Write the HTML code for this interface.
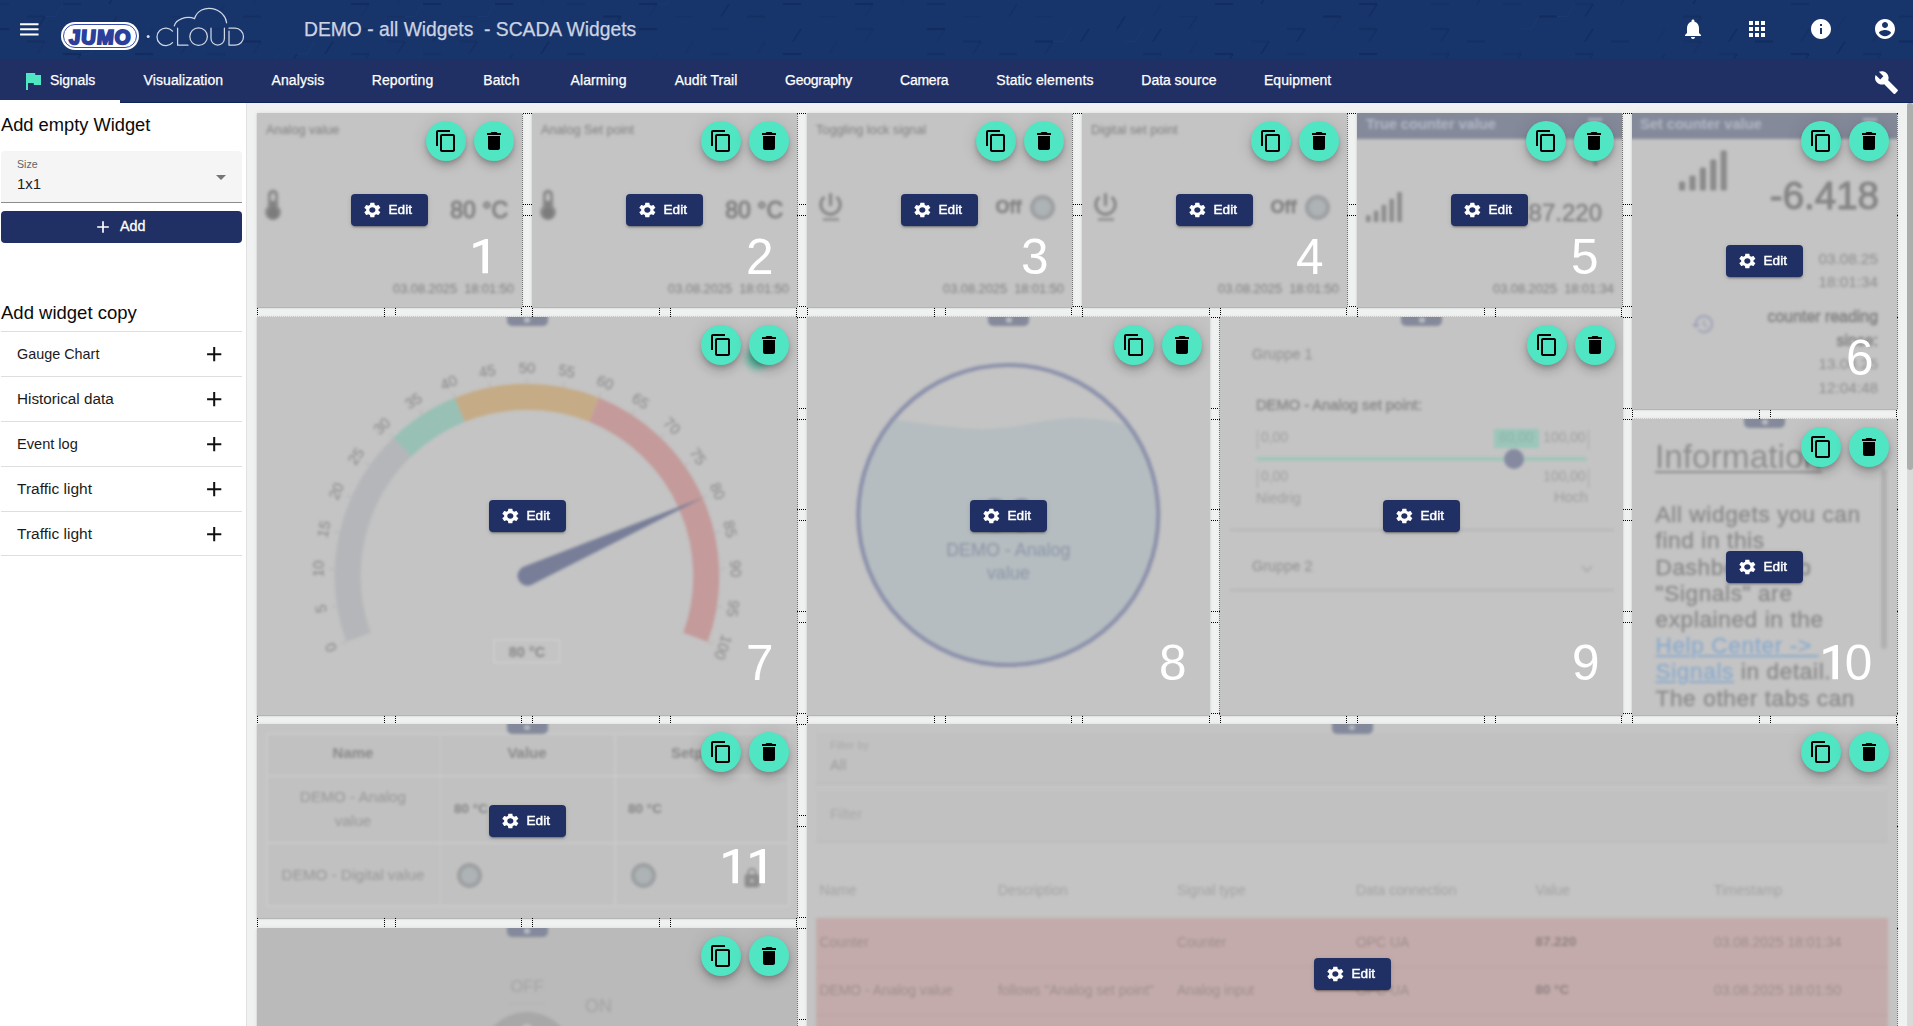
<!DOCTYPE html>
<html lang="en"><head><meta charset="utf-8"><title>JUMO Cloud - SCADA Widgets</title>
<style>
*{box-sizing:border-box;margin:0;padding:0}
html,body{width:1913px;height:1026px;overflow:hidden;background:#f0f1f1;font-family:"Liberation Sans",sans-serif;color:#111}
.abs{position:absolute}
#hdr{position:absolute;left:0;top:0;width:1913px;height:59px;background:#18356b;overflow:hidden}
#nav{position:absolute;left:0;top:59px;width:1913px;height:44px;background:#213064;border-bottom:1px solid #10245c}
#nav .t{position:absolute;top:0;height:43px;line-height:43px;color:#fff;font-size:14px;white-space:nowrap;letter-spacing:.1px;-webkit-text-stroke:.25px #fff}
#nav .ul{position:absolute;left:0;top:41px;width:120px;height:3px;background:#fff}
#side{position:absolute;left:0;top:103px;width:247px;height:923px;background:#fff;border-right:1px solid #e1e1e1}
#side h3{position:absolute;left:1px;font-weight:normal;font-size:18.3px;line-height:22px;color:#0a0a0a;white-space:nowrap}
#sel{position:absolute;left:1px;top:151px;width:241px;height:52px;background:#f5f5f5;border-bottom:1px solid #8c8c8c;border-radius:4px 4px 0 0}
#addb{position:absolute;left:1px;top:211px;width:241px;height:32px;background:#213064;border-radius:4px;color:#fff}
.li{position:absolute;left:1px;width:241px;height:45px;border-top:1px solid #dedede;font-size:14.6px;line-height:44px;padding-left:16px;color:#1b1b1b;white-space:nowrap}
.li:last-child{border-bottom:1px solid #dedede}
#main{position:absolute;left:247px;top:103px;width:1660px;height:923px;overflow:hidden;background:#f0f1f1}
#sb{position:absolute;left:1907px;top:103px;width:6px;height:923px;background:#dadada}
#sb i{position:absolute;left:0;top:0;width:6px;height:367px;background:#acadad;border-radius:3px}
/* gridster display-grid */
.gc{position:absolute;top:0;height:2000px;border-left:1px dotted #000;border-right:1px dotted #000}
.gr{position:absolute;left:0;width:1913px;border-top:1px dotted #000;border-bottom:1px dotted #000}
/* widgets (coordinates are page coords, container is body) */
.w{position:absolute;background:#c4c4c4;overflow:hidden;box-shadow:0 1px 1px rgba(0,0,0,.22),0 0 4px rgba(0,0,0,.09)}
.w .c{position:absolute;left:0;top:0;right:0;bottom:0;filter:blur(1.5px)}
.w .c *{position:absolute;white-space:nowrap}
.fab{position:absolute;top:8px;width:40px;height:40px;border-radius:50%;background:#50e5c3;box-shadow:0 3px 5px -1px rgba(0,0,0,.2),0 6px 10px 0 rgba(0,0,0,.14),0 1px 18px 0 rgba(0,0,0,.12)}
.fab svg{position:absolute;left:8px;top:8px}
.fab.cp{right:56px}.fab.dl{right:8px}
.ed{will-change:transform;position:absolute;left:50%;top:50%;width:77px;height:32px;margin:-16px 0 0 -38.5px;background:#213064;border-radius:4px;box-shadow:0 3px 1px -2px rgba(0,0,0,.2),0 2px 2px 0 rgba(0,0,0,.14),0 1px 5px 0 rgba(0,0,0,.12)}
.ed svg{position:absolute;left:10.5px;top:7.1px}
.ed b{position:absolute;left:37.5px;top:0;line-height:31px;font-size:13.6px;color:#fff;font-weight:normal;-webkit-text-stroke:.45px #fff}
.num{position:absolute;font-size:49.5px;line-height:48px;height:48px;color:#fff;white-space:nowrap;text-align:right}
.tab{position:absolute;top:0;left:50%;width:40px;height:9px;margin-left:-20px;background:#8a8fa6;border-radius:0 0 4px 4px;filter:blur(.8px)}
.tab i{position:absolute;left:15px;top:2px;width:10px;height:4px;background:#c9ccd6;border-radius:2px}
.vd{position:absolute;width:1px;background:repeating-linear-gradient(180deg,#6e6e6e 0 1px,rgba(0,0,0,0) 1px 2px)}
.hd{position:absolute;height:1px;background:repeating-linear-gradient(90deg,#c6c6c6 0 1px,rgba(0,0,0,0) 1px 2px)}

</style></head>
<body>
<div id="hdr"><svg class="abs" style="left:0;top:0" width="1913" height="59" viewBox="0 0 1913 59"><g fill="none" stroke="#132b5c" stroke-linecap="butt"><path d="M-45.0 -8.5h18" stroke-width="2.2" opacity="0.8"/><path d="M-45.0 16.5h18" stroke-width="2.2" opacity="0.8"/><path d="M-27.0 16.5l-8 12.5" stroke-width="1.8" opacity="0.7"/><path d="M-27.0 41.5l-8 12.5" stroke-width="1.8" opacity="0.5"/><path d="M-45.0 66.5h18" stroke-width="2.2" opacity="0.8"/><path d="M-45.0 91.5h18" stroke-width="2.2" opacity="0.55"/><path d="M-9.0 -21.0h18" stroke-width="2.2" opacity="0.35"/><path d="M-9.0 -21.0l-8 12.5h-10" stroke-width="1" opacity=".35" stroke="#21417c"/><path d="M-9.0 4.0h18" stroke-width="2.2" opacity="0.35"/><path d="M-9.0 29.0h18" stroke-width="2.2" opacity="0.8"/><path d="M-9.0 79.0h18" stroke-width="2.2" opacity="0.55"/><path d="M9.0 79.0l-8 12.5" stroke-width="1.8" opacity="0.7"/><path d="M27.0 16.5h18" stroke-width="2.2" opacity="0.55"/><path d="M45.0 16.5l-8 12.5" stroke-width="1.8" opacity="0.7"/><path d="M27.0 41.5h18" stroke-width="2.2" opacity="0.55"/><path d="M45.0 41.5l-8 12.5" stroke-width="1.8" opacity="0.3"/><path d="M27.0 66.5h18" stroke-width="2.2" opacity="0.35"/><path d="M27.0 66.5l-8 12.5h-10" stroke-width="1" opacity=".35" stroke="#21417c"/><path d="M27.0 91.5h18" stroke-width="2.2" opacity="0.8"/><path d="M45.0 91.5l-8 12.5" stroke-width="1.8" opacity="0.3"/><path d="M63.0 -21.0h18" stroke-width="2.2" opacity="0.8"/><path d="M81.0 -21.0l-8 12.5" stroke-width="1.8" opacity="0.3"/><path d="M63.0 4.0h18" stroke-width="2.2" opacity="0.55"/><path d="M63.0 4.0l-8 12.5h-10" stroke-width="1" opacity=".35" stroke="#21417c"/><path d="M63.0 29.0h18" stroke-width="2.2" opacity="0.35"/><path d="M81.0 29.0l-8 12.5" stroke-width="1.8" opacity="0.5"/><path d="M63.0 54.0h18" stroke-width="2.2" opacity="0.8"/><path d="M81.0 54.0l-8 12.5" stroke-width="1.8" opacity="0.7"/><path d="M81.0 79.0l-8 12.5" stroke-width="1.8" opacity="0.7"/><path d="M99.0 -8.5h18" stroke-width="2.2" opacity="0.35"/><path d="M117.0 -8.5l-8 12.5" stroke-width="1.8" opacity="0.7"/><path d="M117.0 16.5l-8 12.5" stroke-width="1.8" opacity="0.5"/><path d="M99.0 41.5l-8 12.5h-10" stroke-width="1" opacity=".35" stroke="#21417c"/><path d="M99.0 66.5h18" stroke-width="2.2" opacity="0.55"/><path d="M117.0 66.5l-8 12.5" stroke-width="1.8" opacity="0.7"/><path d="M99.0 91.5h18" stroke-width="2.2" opacity="0.35"/><path d="M117.0 91.5l-8 12.5" stroke-width="1.8" opacity="0.3"/><path d="M135.0 -21.0h18" stroke-width="2.2" opacity="0.8"/><path d="M153.0 -21.0l-8 12.5" stroke-width="1.8" opacity="0.7"/><path d="M153.0 29.0l-8 12.5" stroke-width="1.8" opacity="0.3"/><path d="M135.0 54.0h18" stroke-width="2.2" opacity="0.8"/><path d="M153.0 54.0l-8 12.5" stroke-width="1.8" opacity="0.3"/><path d="M171.0 -8.5h18" stroke-width="2.2" opacity="0.55"/><path d="M171.0 16.5h18" stroke-width="2.2" opacity="0.35"/><path d="M189.0 41.5l-8 12.5" stroke-width="1.8" opacity="0.5"/><path d="M189.0 66.5l-8 12.5" stroke-width="1.8" opacity="0.3"/><path d="M189.0 91.5l-8 12.5" stroke-width="1.8" opacity="0.5"/><path d="M225.0 4.0l-8 12.5" stroke-width="1.8" opacity="0.3"/><path d="M207.0 4.0l-8 12.5h-10" stroke-width="1" opacity=".35" stroke="#21417c"/><path d="M207.0 29.0h18" stroke-width="2.2" opacity="0.35"/><path d="M225.0 29.0l-8 12.5" stroke-width="1.8" opacity="0.3"/><path d="M207.0 54.0h18" stroke-width="2.2" opacity="0.35"/><path d="M225.0 54.0l-8 12.5" stroke-width="1.8" opacity="0.3"/><path d="M261.0 -8.5l-8 12.5" stroke-width="1.8" opacity="0.3"/><path d="M243.0 16.5h18" stroke-width="2.2" opacity="0.55"/><path d="M243.0 41.5h18" stroke-width="2.2" opacity="0.8"/><path d="M261.0 41.5l-8 12.5" stroke-width="1.8" opacity="0.3"/><path d="M243.0 66.5h18" stroke-width="2.2" opacity="0.35"/><path d="M261.0 66.5l-8 12.5" stroke-width="1.8" opacity="0.7"/><path d="M243.0 91.5h18" stroke-width="2.2" opacity="0.8"/><path d="M297.0 -21.0l-8 12.5" stroke-width="1.8" opacity="0.3"/><path d="M297.0 54.0l-8 12.5" stroke-width="1.8" opacity="0.7"/><path d="M279.0 54.0l-8 12.5h-10" stroke-width="1" opacity=".35" stroke="#21417c"/><path d="M279.0 79.0h18" stroke-width="2.2" opacity="0.35"/><path d="M333.0 41.5l-8 12.5" stroke-width="1.8" opacity="0.7"/><path d="M315.0 41.5l-8 12.5h-10" stroke-width="1" opacity=".35" stroke="#21417c"/><path d="M369.0 -21.0l-8 12.5" stroke-width="1.8" opacity="0.3"/><path d="M351.0 4.0h18" stroke-width="2.2" opacity="0.8"/><path d="M369.0 4.0l-8 12.5" stroke-width="1.8" opacity="0.3"/><path d="M351.0 29.0h18" stroke-width="2.2" opacity="0.55"/><path d="M351.0 54.0h18" stroke-width="2.2" opacity="0.55"/><path d="M369.0 54.0l-8 12.5" stroke-width="1.8" opacity="0.5"/><path d="M369.0 79.0l-8 12.5" stroke-width="1.8" opacity="0.3"/><path d="M405.0 -8.5l-8 12.5" stroke-width="1.8" opacity="0.3"/><path d="M387.0 16.5h18" stroke-width="2.2" opacity="0.35"/><path d="M387.0 41.5h18" stroke-width="2.2" opacity="0.35"/><path d="M405.0 41.5l-8 12.5" stroke-width="1.8" opacity="0.5"/><path d="M387.0 66.5h18" stroke-width="2.2" opacity="0.55"/><path d="M405.0 66.5l-8 12.5" stroke-width="1.8" opacity="0.7"/><path d="M387.0 91.5h18" stroke-width="2.2" opacity="0.8"/><path d="M387.0 91.5l-8 12.5h-10" stroke-width="1" opacity=".35" stroke="#21417c"/><path d="M423.0 -21.0h18" stroke-width="2.2" opacity="0.8"/><path d="M441.0 -21.0l-8 12.5" stroke-width="1.8" opacity="0.7"/><path d="M423.0 4.0h18" stroke-width="2.2" opacity="0.8"/><path d="M423.0 4.0l-8 12.5h-10" stroke-width="1" opacity=".35" stroke="#21417c"/><path d="M423.0 29.0h18" stroke-width="2.2" opacity="0.55"/><path d="M441.0 29.0l-8 12.5" stroke-width="1.8" opacity="0.5"/><path d="M423.0 54.0h18" stroke-width="2.2" opacity="0.35"/><path d="M423.0 54.0l-8 12.5h-10" stroke-width="1" opacity=".35" stroke="#21417c"/><path d="M423.0 79.0h18" stroke-width="2.2" opacity="0.8"/><path d="M459.0 16.5h18" stroke-width="2.2" opacity="0.35"/><path d="M459.0 41.5h18" stroke-width="2.2" opacity="0.35"/><path d="M477.0 41.5l-8 12.5" stroke-width="1.8" opacity="0.5"/><path d="M459.0 66.5h18" stroke-width="2.2" opacity="0.8"/><path d="M459.0 91.5h18" stroke-width="2.2" opacity="0.8"/><path d="M459.0 91.5l-8 12.5h-10" stroke-width="1" opacity=".35" stroke="#21417c"/><path d="M495.0 4.0h18" stroke-width="2.2" opacity="0.8"/><path d="M495.0 4.0l-8 12.5h-10" stroke-width="1" opacity=".35" stroke="#21417c"/><path d="M513.0 54.0l-8 12.5" stroke-width="1.8" opacity="0.5"/><path d="M495.0 79.0h18" stroke-width="2.2" opacity="0.8"/><path d="M549.0 -8.5l-8 12.5" stroke-width="1.8" opacity="0.3"/><path d="M549.0 41.5l-8 12.5" stroke-width="1.8" opacity="0.7"/><path d="M531.0 66.5h18" stroke-width="2.2" opacity="0.35"/><path d="M549.0 66.5l-8 12.5" stroke-width="1.8" opacity="0.5"/><path d="M531.0 91.5l-8 12.5h-10" stroke-width="1" opacity=".35" stroke="#21417c"/><path d="M585.0 -21.0l-8 12.5" stroke-width="1.8" opacity="0.3"/><path d="M567.0 4.0h18" stroke-width="2.2" opacity="0.35"/><path d="M567.0 54.0h18" stroke-width="2.2" opacity="0.55"/><path d="M603.0 16.5h18" stroke-width="2.2" opacity="0.8"/><path d="M621.0 16.5l-8 12.5" stroke-width="1.8" opacity="0.7"/><path d="M621.0 91.5l-8 12.5" stroke-width="1.8" opacity="0.7"/><path d="M603.0 91.5l-8 12.5h-10" stroke-width="1" opacity=".35" stroke="#21417c"/><path d="M639.0 -21.0h18" stroke-width="2.2" opacity="0.55"/><path d="M657.0 -21.0l-8 12.5" stroke-width="1.8" opacity="0.3"/><path d="M639.0 4.0h18" stroke-width="2.2" opacity="0.8"/><path d="M657.0 4.0l-8 12.5" stroke-width="1.8" opacity="0.3"/><path d="M639.0 29.0h18" stroke-width="2.2" opacity="0.8"/><path d="M657.0 54.0l-8 12.5" stroke-width="1.8" opacity="0.3"/><path d="M639.0 79.0h18" stroke-width="2.2" opacity="0.55"/><path d="M675.0 -8.5l-8 12.5h-10" stroke-width="1" opacity=".35" stroke="#21417c"/><path d="M675.0 16.5h18" stroke-width="2.2" opacity="0.35"/><path d="M693.0 41.5l-8 12.5" stroke-width="1.8" opacity="0.3"/><path d="M675.0 66.5h18" stroke-width="2.2" opacity="0.55"/><path d="M693.0 66.5l-8 12.5" stroke-width="1.8" opacity="0.5"/><path d="M675.0 91.5h18" stroke-width="2.2" opacity="0.55"/><path d="M711.0 -21.0h18" stroke-width="2.2" opacity="0.55"/><path d="M729.0 4.0l-8 12.5" stroke-width="1.8" opacity="0.7"/><path d="M711.0 29.0h18" stroke-width="2.2" opacity="0.35"/><path d="M711.0 54.0h18" stroke-width="2.2" opacity="0.35"/><path d="M747.0 16.5h18" stroke-width="2.2" opacity="0.55"/><path d="M765.0 41.5l-8 12.5" stroke-width="1.8" opacity="0.3"/><path d="M747.0 66.5h18" stroke-width="2.2" opacity="0.8"/><path d="M765.0 66.5l-8 12.5" stroke-width="1.8" opacity="0.5"/><path d="M747.0 66.5l-8 12.5h-10" stroke-width="1" opacity=".35" stroke="#21417c"/><path d="M783.0 -21.0h18" stroke-width="2.2" opacity="0.55"/><path d="M783.0 4.0h18" stroke-width="2.2" opacity="0.8"/><path d="M801.0 29.0l-8 12.5" stroke-width="1.8" opacity="0.7"/><path d="M783.0 54.0h18" stroke-width="2.2" opacity="0.8"/><path d="M783.0 79.0h18" stroke-width="2.2" opacity="0.35"/><path d="M801.0 79.0l-8 12.5" stroke-width="1.8" opacity="0.7"/><path d="M819.0 16.5h18" stroke-width="2.2" opacity="0.35"/><path d="M837.0 41.5l-8 12.5" stroke-width="1.8" opacity="0.3"/><path d="M837.0 66.5l-8 12.5" stroke-width="1.8" opacity="0.3"/><path d="M819.0 91.5h18" stroke-width="2.2" opacity="0.8"/><path d="M837.0 91.5l-8 12.5" stroke-width="1.8" opacity="0.3"/><path d="M855.0 -21.0h18" stroke-width="2.2" opacity="0.8"/><path d="M873.0 -21.0l-8 12.5" stroke-width="1.8" opacity="0.3"/><path d="M855.0 4.0h18" stroke-width="2.2" opacity="0.8"/><path d="M873.0 4.0l-8 12.5" stroke-width="1.8" opacity="0.3"/><path d="M855.0 29.0h18" stroke-width="2.2" opacity="0.35"/><path d="M873.0 29.0l-8 12.5" stroke-width="1.8" opacity="0.3"/><path d="M855.0 79.0h18" stroke-width="2.2" opacity="0.8"/><path d="M873.0 79.0l-8 12.5" stroke-width="1.8" opacity="0.7"/><path d="M909.0 -8.5l-8 12.5" stroke-width="1.8" opacity="0.3"/><path d="M909.0 91.5l-8 12.5" stroke-width="1.8" opacity="0.5"/><path d="M927.0 -21.0h18" stroke-width="2.2" opacity="0.55"/><path d="M927.0 4.0h18" stroke-width="2.2" opacity="0.55"/><path d="M927.0 29.0h18" stroke-width="2.2" opacity="0.8"/><path d="M945.0 29.0l-8 12.5" stroke-width="1.8" opacity="0.3"/><path d="M927.0 54.0h18" stroke-width="2.2" opacity="0.55"/><path d="M927.0 79.0l-8 12.5h-10" stroke-width="1" opacity=".35" stroke="#21417c"/><path d="M963.0 16.5h18" stroke-width="2.2" opacity="0.35"/><path d="M963.0 41.5h18" stroke-width="2.2" opacity="0.55"/><path d="M981.0 41.5l-8 12.5" stroke-width="1.8" opacity="0.5"/><path d="M963.0 66.5h18" stroke-width="2.2" opacity="0.8"/><path d="M963.0 91.5l-8 12.5h-10" stroke-width="1" opacity=".35" stroke="#21417c"/><path d="M999.0 -21.0l-8 12.5h-10" stroke-width="1" opacity=".35" stroke="#21417c"/><path d="M1017.0 4.0l-8 12.5" stroke-width="1.8" opacity="0.5"/><path d="M999.0 54.0h18" stroke-width="2.2" opacity="0.55"/><path d="M1017.0 79.0l-8 12.5" stroke-width="1.8" opacity="0.5"/><path d="M1035.0 -8.5h18" stroke-width="2.2" opacity="0.55"/><path d="M1035.0 16.5h18" stroke-width="2.2" opacity="0.35"/><path d="M1035.0 41.5h18" stroke-width="2.2" opacity="0.8"/><path d="M1053.0 41.5l-8 12.5" stroke-width="1.8" opacity="0.5"/><path d="M1035.0 66.5h18" stroke-width="2.2" opacity="0.8"/><path d="M1035.0 66.5l-8 12.5h-10" stroke-width="1" opacity=".35" stroke="#21417c"/><path d="M1089.0 -21.0l-8 12.5" stroke-width="1.8" opacity="0.7"/><path d="M1071.0 -21.0l-8 12.5h-10" stroke-width="1" opacity=".35" stroke="#21417c"/><path d="M1089.0 29.0l-8 12.5" stroke-width="1.8" opacity="0.7"/><path d="M1071.0 29.0l-8 12.5h-10" stroke-width="1" opacity=".35" stroke="#21417c"/><path d="M1071.0 79.0h18" stroke-width="2.2" opacity="0.8"/><path d="M1089.0 79.0l-8 12.5" stroke-width="1.8" opacity="0.5"/><path d="M1125.0 16.5l-8 12.5" stroke-width="1.8" opacity="0.7"/><path d="M1107.0 66.5h18" stroke-width="2.2" opacity="0.35"/><path d="M1107.0 91.5h18" stroke-width="2.2" opacity="0.55"/><path d="M1125.0 91.5l-8 12.5" stroke-width="1.8" opacity="0.7"/><path d="M1161.0 4.0l-8 12.5" stroke-width="1.8" opacity="0.3"/><path d="M1161.0 29.0l-8 12.5" stroke-width="1.8" opacity="0.7"/><path d="M1143.0 29.0l-8 12.5h-10" stroke-width="1" opacity=".35" stroke="#21417c"/><path d="M1143.0 54.0h18" stroke-width="2.2" opacity="0.55"/><path d="M1161.0 54.0l-8 12.5" stroke-width="1.8" opacity="0.3"/><path d="M1143.0 79.0h18" stroke-width="2.2" opacity="0.8"/><path d="M1161.0 79.0l-8 12.5" stroke-width="1.8" opacity="0.3"/><path d="M1179.0 -8.5h18" stroke-width="2.2" opacity="0.35"/><path d="M1179.0 16.5h18" stroke-width="2.2" opacity="0.35"/><path d="M1197.0 16.5l-8 12.5" stroke-width="1.8" opacity="0.5"/><path d="M1197.0 41.5l-8 12.5" stroke-width="1.8" opacity="0.3"/><path d="M1179.0 91.5h18" stroke-width="2.2" opacity="0.8"/><path d="M1197.0 91.5l-8 12.5" stroke-width="1.8" opacity="0.3"/><path d="M1215.0 4.0h18" stroke-width="2.2" opacity="0.8"/><path d="M1215.0 54.0h18" stroke-width="2.2" opacity="0.8"/><path d="M1233.0 54.0l-8 12.5" stroke-width="1.8" opacity="0.7"/><path d="M1251.0 -8.5h18" stroke-width="2.2" opacity="0.55"/><path d="M1269.0 -8.5l-8 12.5" stroke-width="1.8" opacity="0.7"/><path d="M1251.0 41.5h18" stroke-width="2.2" opacity="0.35"/><path d="M1269.0 41.5l-8 12.5" stroke-width="1.8" opacity="0.7"/><path d="M1251.0 66.5h18" stroke-width="2.2" opacity="0.35"/><path d="M1269.0 66.5l-8 12.5" stroke-width="1.8" opacity="0.5"/><path d="M1287.0 -21.0h18" stroke-width="2.2" opacity="0.55"/><path d="M1287.0 29.0h18" stroke-width="2.2" opacity="0.55"/><path d="M1305.0 29.0l-8 12.5" stroke-width="1.8" opacity="0.7"/><path d="M1287.0 54.0h18" stroke-width="2.2" opacity="0.35"/><path d="M1287.0 79.0h18" stroke-width="2.2" opacity="0.35"/><path d="M1323.0 -8.5h18" stroke-width="2.2" opacity="0.55"/><path d="M1323.0 16.5h18" stroke-width="2.2" opacity="0.8"/><path d="M1341.0 16.5l-8 12.5" stroke-width="1.8" opacity="0.3"/><path d="M1323.0 66.5h18" stroke-width="2.2" opacity="0.8"/><path d="M1341.0 66.5l-8 12.5" stroke-width="1.8" opacity="0.7"/><path d="M1323.0 66.5l-8 12.5h-10" stroke-width="1" opacity=".35" stroke="#21417c"/><path d="M1323.0 91.5h18" stroke-width="2.2" opacity="0.8"/><path d="M1341.0 91.5l-8 12.5" stroke-width="1.8" opacity="0.5"/><path d="M1323.0 91.5l-8 12.5h-10" stroke-width="1" opacity=".35" stroke="#21417c"/><path d="M1377.0 -21.0l-8 12.5" stroke-width="1.8" opacity="0.7"/><path d="M1359.0 4.0h18" stroke-width="2.2" opacity="0.8"/><path d="M1377.0 4.0l-8 12.5" stroke-width="1.8" opacity="0.7"/><path d="M1359.0 29.0h18" stroke-width="2.2" opacity="0.55"/><path d="M1377.0 29.0l-8 12.5" stroke-width="1.8" opacity="0.5"/><path d="M1359.0 54.0h18" stroke-width="2.2" opacity="0.8"/><path d="M1359.0 54.0l-8 12.5h-10" stroke-width="1" opacity=".35" stroke="#21417c"/><path d="M1377.0 79.0l-8 12.5" stroke-width="1.8" opacity="0.7"/><path d="M1395.0 -8.5h18" stroke-width="2.2" opacity="0.55"/><path d="M1395.0 66.5h18" stroke-width="2.2" opacity="0.35"/><path d="M1413.0 66.5l-8 12.5" stroke-width="1.8" opacity="0.3"/><path d="M1395.0 91.5h18" stroke-width="2.2" opacity="0.35"/><path d="M1413.0 91.5l-8 12.5" stroke-width="1.8" opacity="0.5"/><path d="M1431.0 -21.0h18" stroke-width="2.2" opacity="0.35"/><path d="M1431.0 4.0h18" stroke-width="2.2" opacity="0.35"/><path d="M1431.0 29.0h18" stroke-width="2.2" opacity="0.55"/><path d="M1449.0 29.0l-8 12.5" stroke-width="1.8" opacity="0.5"/><path d="M1431.0 54.0h18" stroke-width="2.2" opacity="0.35"/><path d="M1449.0 54.0l-8 12.5" stroke-width="1.8" opacity="0.5"/><path d="M1431.0 79.0h18" stroke-width="2.2" opacity="0.8"/><path d="M1467.0 -8.5h18" stroke-width="2.2" opacity="0.55"/><path d="M1485.0 -8.5l-8 12.5" stroke-width="1.8" opacity="0.5"/><path d="M1467.0 41.5h18" stroke-width="2.2" opacity="0.55"/><path d="M1467.0 66.5h18" stroke-width="2.2" opacity="0.35"/><path d="M1467.0 91.5h18" stroke-width="2.2" opacity="0.35"/><path d="M1503.0 -21.0h18" stroke-width="2.2" opacity="0.8"/><path d="M1503.0 4.0h18" stroke-width="2.2" opacity="0.35"/><path d="M1503.0 54.0h18" stroke-width="2.2" opacity="0.35"/><path d="M1521.0 54.0l-8 12.5" stroke-width="1.8" opacity="0.5"/><path d="M1539.0 16.5h18" stroke-width="2.2" opacity="0.8"/><path d="M1539.0 16.5l-8 12.5h-10" stroke-width="1" opacity=".35" stroke="#21417c"/><path d="M1539.0 66.5h18" stroke-width="2.2" opacity="0.55"/><path d="M1539.0 91.5l-8 12.5h-10" stroke-width="1" opacity=".35" stroke="#21417c"/><path d="M1575.0 4.0h18" stroke-width="2.2" opacity="0.35"/><path d="M1593.0 4.0l-8 12.5" stroke-width="1.8" opacity="0.7"/><path d="M1575.0 4.0l-8 12.5h-10" stroke-width="1" opacity=".35" stroke="#21417c"/><path d="M1593.0 29.0l-8 12.5" stroke-width="1.8" opacity="0.7"/><path d="M1575.0 54.0h18" stroke-width="2.2" opacity="0.55"/><path d="M1593.0 54.0l-8 12.5" stroke-width="1.8" opacity="0.5"/><path d="M1575.0 54.0l-8 12.5h-10" stroke-width="1" opacity=".35" stroke="#21417c"/><path d="M1575.0 79.0h18" stroke-width="2.2" opacity="0.55"/><path d="M1575.0 79.0l-8 12.5h-10" stroke-width="1" opacity=".35" stroke="#21417c"/><path d="M1611.0 -8.5h18" stroke-width="2.2" opacity="0.35"/><path d="M1629.0 -8.5l-8 12.5" stroke-width="1.8" opacity="0.5"/><path d="M1611.0 41.5h18" stroke-width="2.2" opacity="0.55"/><path d="M1611.0 66.5h18" stroke-width="2.2" opacity="0.35"/><path d="M1611.0 66.5l-8 12.5h-10" stroke-width="1" opacity=".35" stroke="#21417c"/><path d="M1665.0 -21.0l-8 12.5" stroke-width="1.8" opacity="0.5"/><path d="M1665.0 29.0l-8 12.5" stroke-width="1.8" opacity="0.3"/><path d="M1665.0 54.0l-8 12.5" stroke-width="1.8" opacity="0.5"/><path d="M1665.0 79.0l-8 12.5" stroke-width="1.8" opacity="0.5"/><path d="M1647.0 79.0l-8 12.5h-10" stroke-width="1" opacity=".35" stroke="#21417c"/><path d="M1683.0 -8.5h18" stroke-width="2.2" opacity="0.35"/><path d="M1701.0 -8.5l-8 12.5" stroke-width="1.8" opacity="0.7"/><path d="M1683.0 16.5h18" stroke-width="2.2" opacity="0.55"/><path d="M1701.0 16.5l-8 12.5" stroke-width="1.8" opacity="0.5"/><path d="M1683.0 41.5h18" stroke-width="2.2" opacity="0.35"/><path d="M1701.0 41.5l-8 12.5" stroke-width="1.8" opacity="0.3"/><path d="M1701.0 66.5l-8 12.5" stroke-width="1.8" opacity="0.5"/><path d="M1683.0 91.5h18" stroke-width="2.2" opacity="0.35"/><path d="M1719.0 -21.0h18" stroke-width="2.2" opacity="0.55"/><path d="M1737.0 29.0l-8 12.5" stroke-width="1.8" opacity="0.7"/><path d="M1719.0 54.0h18" stroke-width="2.2" opacity="0.35"/><path d="M1737.0 54.0l-8 12.5" stroke-width="1.8" opacity="0.7"/><path d="M1737.0 79.0l-8 12.5" stroke-width="1.8" opacity="0.5"/><path d="M1755.0 41.5h18" stroke-width="2.2" opacity="0.8"/><path d="M1755.0 66.5h18" stroke-width="2.2" opacity="0.8"/><path d="M1755.0 91.5l-8 12.5h-10" stroke-width="1" opacity=".35" stroke="#21417c"/><path d="M1791.0 4.0h18" stroke-width="2.2" opacity="0.55"/><path d="M1809.0 29.0l-8 12.5" stroke-width="1.8" opacity="0.5"/><path d="M1791.0 54.0h18" stroke-width="2.2" opacity="0.8"/><path d="M1809.0 54.0l-8 12.5" stroke-width="1.8" opacity="0.7"/><path d="M1845.0 16.5l-8 12.5" stroke-width="1.8" opacity="0.3"/><path d="M1845.0 41.5l-8 12.5" stroke-width="1.8" opacity="0.7"/><path d="M1827.0 66.5h18" stroke-width="2.2" opacity="0.8"/><path d="M1827.0 66.5l-8 12.5h-10" stroke-width="1" opacity=".35" stroke="#21417c"/><path d="M1827.0 91.5h18" stroke-width="2.2" opacity="0.35"/><path d="M1881.0 -21.0l-8 12.5" stroke-width="1.8" opacity="0.7"/><path d="M1881.0 29.0l-8 12.5" stroke-width="1.8" opacity="0.5"/><path d="M1863.0 54.0h18" stroke-width="2.2" opacity="0.55"/><path d="M1881.0 54.0l-8 12.5" stroke-width="1.8" opacity="0.5"/><path d="M1863.0 79.0h18" stroke-width="2.2" opacity="0.55"/><path d="M1881.0 79.0l-8 12.5" stroke-width="1.8" opacity="0.5"/><path d="M1863.0 79.0l-8 12.5h-10" stroke-width="1" opacity=".35" stroke="#21417c"/><path d="M1899.0 16.5h18" stroke-width="2.2" opacity="0.55"/><path d="M1899.0 41.5h18" stroke-width="2.2" opacity="0.8"/><path d="M1899.0 66.5h18" stroke-width="2.2" opacity="0.55"/><path d="M1935.0 -21.0h18" stroke-width="2.2" opacity="0.8"/><path d="M1953.0 -21.0l-8 12.5" stroke-width="1.8" opacity="0.7"/><path d="M1935.0 4.0h18" stroke-width="2.2" opacity="0.55"/><path d="M1935.0 29.0h18" stroke-width="2.2" opacity="0.8"/><path d="M1935.0 54.0h18" stroke-width="2.2" opacity="0.55"/><path d="M1953.0 79.0l-8 12.5" stroke-width="1.8" opacity="0.3"/><path d="M1971.0 -8.5h18" stroke-width="2.2" opacity="0.55"/><path d="M1971.0 16.5h18" stroke-width="2.2" opacity="0.35"/><path d="M1971.0 91.5h18" stroke-width="2.2" opacity="0.8"/></g></svg><svg width="24.6" height="24.6" viewBox="0 0 24 24" style="position:absolute;left:16.5px;top:17px"><path fill="#fff" d="M3 18h18v-2H3v2zm0-5h18v-2H3v2zm0-7v2h18V6H3z"/></svg><div class="abs" style="left:61px;top:22px;width:78px;height:28px;border-radius:14px;background:#fff"></div><div class="abs" style="left:62.6px;top:23.6px;width:74.8px;height:24.8px;border-radius:12.4px;border:1px solid #3a4ca6"></div><div class="abs" style="left:61px;top:22px;width:78px;height:28px;line-height:28.5px;text-align:center;font-weight:bold;font-style:italic;font-size:20px;color:#2b3f9b;-webkit-text-stroke:2px #2b3f9b;letter-spacing:1.2px;transform:skewX(6deg) translateY(.6px)">JUMO</div><svg class="abs" style="left:140px;top:0" width="112" height="59" viewBox="140 0 112 59"><circle cx="148.2" cy="36.4" r="1.5" fill="#d5dbe8"/><g fill="none" stroke="#cfd6e4" stroke-width="1.25" stroke-linecap="round"><path d="M172.5 31.2 A8.8 8.8 0 1 0 172.5 42.6"/><path d="M177.6 28.2 V45.2 H188"/><circle cx="198.6" cy="36.6" r="8.8"/><path d="M211 28.2 V38.4 A6.7 6.7 0 0 0 224.4 38.4 V28.2"/><path d="M229 28.2 H235 A8.5 8.5 0 0 1 235 45.2 H229 M229 31 V45.2"/><path d="M174.3 25.8 C176 19.5 186 15.5 194.6 18.6 C197 10.5 205 7.2 212.2 8.6 C220.5 10.2 226 16.5 226.6 22.8"/></g></svg><div class="abs" style="left:304px;top:17px;font-size:19.3px;line-height:26px;color:#ccd3e2;white-space:nowrap;-webkit-text-stroke:.25px #ccd3e2">DEMO - all Widgets&nbsp; - SCADA Widgets</div><svg width="24" height="24" viewBox="0 0 24 24" style="position:absolute;left:1681px;top:17px"><path fill="#fff" d="M12 22c1.1 0 2-.9 2-2h-4c0 1.1.89 2 2 2zm6-6v-5c0-3.07-1.64-5.64-4.5-6.32V4c0-.83-.67-1.5-1.5-1.5s-1.5.67-1.5 1.5v.68C7.63 5.36 6 7.92 6 11v5l-2 2v1h16v-1l-2-2z"/></svg><svg width="24" height="24" viewBox="0 0 24 24" style="position:absolute;left:1745px;top:17px"><path fill="#fff" d="M4 8h4V4H4v4zm6 12h4v-4h-4v4zm-6 0h4v-4H4v4zm0-6h4v-4H4v4zm6 0h4v-4h-4v4zm6-10v4h4V4h-4zm-6 4h4V4h-4v4zm6 6h4v-4h-4v4zm0 6h4v-4h-4v4z"/></svg><svg width="24" height="24" viewBox="0 0 24 24" style="position:absolute;left:1809px;top:17px"><path fill="#fff" d="M12 2C6.48 2 2 6.48 2 12s4.48 10 10 10 10-4.48 10-10S17.52 2 12 2zm1 15h-2v-6h2v6zm0-8h-2V7h2v2z"/></svg><svg width="24" height="24" viewBox="0 0 24 24" style="position:absolute;left:1873px;top:17px"><path fill="#fff" d="M12 2C6.48 2 2 6.48 2 12s4.48 10 10 10 10-4.48 10-10S17.52 2 12 2zm0 3c1.66 0 3 1.34 3 3s-1.34 3-3 3-3-1.34-3-3 1.34-3 3-3zm0 14.2c-2.5 0-4.71-1.28-6-3.22.03-1.99 4-3.08 6-3.08 1.99 0 5.97 1.09 6 3.08-1.29 1.94-3.5 3.22-6 3.22z"/></svg></div><div id="nav"><svg width="24" height="24" viewBox="0 0 24 24" style="position:absolute;left:21px;top:9.5px"><path fill="#50e5c3" d="M14.4 6L14 4H5v17h2v-7h5.6l.4 2h7V6z"/></svg><span class="t" style="left:50px;letter-spacing:-0.1px">Signals</span><span class="t" style="left:143.6px;letter-spacing:0.1px">Visualization</span><span class="t" style="left:271.5px;letter-spacing:0.1px">Analysis</span><span class="t" style="left:371.7px;letter-spacing:0.1px">Reporting</span><span class="t" style="left:483.3px;letter-spacing:0.1px">Batch</span><span class="t" style="left:570.5px;letter-spacing:0.1px">Alarming</span><span class="t" style="left:674.7px;letter-spacing:0.03px">Audit Trail</span><span class="t" style="left:785px;letter-spacing:-0.25px">Geography</span><span class="t" style="left:900px;letter-spacing:-0.23px">Camera</span><span class="t" style="left:996.3px;letter-spacing:0.1px">Static elements</span><span class="t" style="left:1141.3px;letter-spacing:-0.03px">Data source</span><span class="t" style="left:1264px;letter-spacing:0.03px">Equipment</span><svg width="25" height="25" viewBox="0 0 24 24" style="position:absolute;left:1874px;top:10.5px"><path fill="#fff" d="M22.7 19l-9.1-9.1c.9-2.3.4-5-1.5-6.9-2-2-5-2.4-7.4-1.3L9 6 6 9 1.6 4.7C.4 7.1.9 10.1 2.9 12.1c1.9 1.9 4.6 2.4 6.9 1.5l9.1 9.1c.4.4 1 .4 1.4 0l2.3-2.3c.5-.4.5-1.1.1-1.4z"/></svg><div class="ul"></div></div><div id="side" style="top:103px"></div><div id="sidec" class="abs" style="left:0;top:0;width:246px;height:1026px"><h3 class="abs" style="left:1px;top:114px;font-weight:normal;font-size:18.3px;line-height:22px;white-space:nowrap;color:#0a0a0a">Add empty Widget</h3><div id="sel"><span class="abs" style="left:16px;top:7px;font-size:10.6px;line-height:12px;color:#636363">Size</span><span class="abs" style="left:16px;top:24.3px;font-size:15px;line-height:18px;color:#1d1d1d">1x1</span><span class="abs" style="left:215px;top:24px;width:0;height:0;border-left:5px solid transparent;border-right:5px solid transparent;border-top:5px solid #757575"></span></div><div id="addb"><svg width="20" height="20" viewBox="0 0 24 24" style="position:absolute;left:92.3px;top:6px"><path fill="#fff" d="M19 13h-6v6h-2v-6H5v-2h6V5h2v6h6v2z"/></svg><span class="abs" style="left:119px;top:0;line-height:31px;font-size:14.3px;-webkit-text-stroke:.3px #fff">Add</span></div><h3 class="abs" style="left:1px;top:302px;font-weight:normal;font-size:18.5px;line-height:22px;white-space:nowrap;color:#0a0a0a">Add widget copy</h3><div><div class="li" style="top:331px;font-size:14.4px">Gauge Chart<svg width="24.4" height="24.4" viewBox="0 0 24 24" style="position:absolute;left:201.3px;top:9.7px"><path fill="#111" d="M19 13h-6v6h-2v-6H5v-2h6V5h2v6h6v2z"/></svg></div><div class="li" style="top:376px;font-size:15.25px">Historical data<svg width="24.4" height="24.4" viewBox="0 0 24 24" style="position:absolute;left:201.3px;top:9.7px"><path fill="#111" d="M19 13h-6v6h-2v-6H5v-2h6V5h2v6h6v2z"/></svg></div><div class="li" style="top:421px;font-size:14.6px">Event log<svg width="24.4" height="24.4" viewBox="0 0 24 24" style="position:absolute;left:201.3px;top:9.7px"><path fill="#111" d="M19 13h-6v6h-2v-6H5v-2h6V5h2v6h6v2z"/></svg></div><div class="li" style="top:466px;font-size:15.5px">Traffic light<svg width="24.4" height="24.4" viewBox="0 0 24 24" style="position:absolute;left:201.3px;top:9.7px"><path fill="#111" d="M19 13h-6v6h-2v-6H5v-2h6V5h2v6h6v2z"/></svg></div><div class="li" style="top:511px;font-size:15.5px">Traffic light<svg width="24.4" height="24.4" viewBox="0 0 24 24" style="position:absolute;left:201.3px;top:9.7px"><path fill="#111" d="M19 13h-6v6h-2v-6H5v-2h6V5h2v6h6v2z"/></svg></div></div></div><div id="main"><div id="g" class="abs" style="left:-247px;top:-103px;width:1913px;height:1300px"><div class="abs" style="left:257px;top:113px;width:1640.5px;height:1200px;overflow:hidden"><div class="gc" style="left:0.0px;width:127.5px"></div><div class="gc" style="left:137.5px;width:127.5px"></div><div class="gc" style="left:275.0px;width:127.5px"></div><div class="gc" style="left:412.5px;width:127.5px"></div><div class="gc" style="left:550.0px;width:127.5px"></div><div class="gc" style="left:687.5px;width:127.5px"></div><div class="gc" style="left:825.0px;width:127.5px"></div><div class="gc" style="left:962.5px;width:127.5px"></div><div class="gc" style="left:1100.0px;width:127.5px"></div><div class="gc" style="left:1237.5px;width:127.5px"></div><div class="gc" style="left:1375.0px;width:127.5px"></div><div class="gc" style="left:1512.5px;width:127.5px"></div><div class="gr" style="top:0px;height:91.85px"></div><div class="gr" style="top:101.85px;height:91.85px"></div><div class="gr" style="top:203.7px;height:91.85px"></div><div class="gr" style="top:305.55px;height:91.85px"></div><div class="gr" style="top:407.4px;height:91.85px"></div><div class="gr" style="top:509.25px;height:91.85px"></div><div class="gr" style="top:611.1px;height:91.85px"></div><div class="gr" style="top:712.95px;height:91.85px"></div><div class="gr" style="top:814.8px;height:91.85px"></div><div class="gr" style="top:916.65px;height:91.85px"></div></div><div class="w" style="left:257px;top:113px;width:265px;height:194px"><div class="c"><span style="left:9px;top:10.2px;font-size:12.7px;line-height:15.2px;color:#7f7f7f;">Analog value</span><svg style="left:7px;top:75px" width="18" height="34" viewBox="0 0 18 34"><path d="M9 1.6a5.2 5.2 0 0 0-5.2 5.2v11.4a8 8 0 1 0 10.4 0V6.8A5.2 5.2 0 0 0 9 1.6z" fill="#8d8d8d"/><ellipse cx="9" cy="9.3" rx="2.3" ry="4" fill="#bdbdbd"/><path d="M9 16v8" stroke="#838383" stroke-width="6" stroke-linecap="round"/><circle cx="9" cy="25" r="5.4" fill="#7c7c7c"/></svg><span style="right:14px;top:84.2px;font-size:23px;line-height:27.6px;color:#838383;-webkit-text-stroke:1.1px #838383">80 &deg;C</span><span style="right:8px;top:167.8px;font-size:12.8px;line-height:15.4px;color:#7f7f7f;">03.08.2025&nbsp; 18:01:50</span></div><div class="num" style="right:26.6px;bottom:26.4px"><svg width="27" height="48" viewBox="0 0 27 48" style="display:inline-block;vertical-align:top"><path fill="#fff" d="M20 5.9V40.35H14.4V11.7L5.3 15.3V10.7L17.3 5.9z"/></svg></div><div class="ed"><svg width="20.7" height="18" viewBox="0 0 24 24" preserveAspectRatio="none"><path fill="#fff" d="M19.14 12.94c.04-.3.06-.61.06-.94 0-.32-.02-.64-.07-.94l2.03-1.58c.18-.14.23-.41.12-.61l-1.92-3.32c-.12-.22-.37-.29-.59-.22l-2.39.96c-.5-.38-1.03-.7-1.62-.94l-.36-2.54c-.04-.24-.24-.41-.48-.41h-3.84c-.24 0-.43.17-.47.41l-.36 2.54c-.59.24-1.13.57-1.62.94l-2.39-.96c-.22-.08-.47 0-.59.22L2.74 8.87c-.12.21-.08.47.12.61l2.03 1.58c-.05.3-.09.63-.09.94s.02.64.07.94l-2.03 1.58c-.18.14-.23.41-.12.61l1.92 3.32c.12.22.37.29.59.22l2.39-.96c.5.38 1.03.7 1.62.94l.36 2.54c.05.24.24.41.48.41h3.84c.24 0 .44-.17.47-.41l.36-2.54c.59-.24 1.13-.56 1.62-.94l2.39.96c.22.08.47 0 .59-.22l1.92-3.32c.12-.22.07-.47-.12-.61l-2.01-1.58zM12 15.6c-1.98 0-3.6-1.62-3.6-3.6s1.62-3.6 3.6-3.6 3.6 1.62 3.6 3.6-1.62 3.6-3.6 3.6z"/></svg><b>Edit</b></div><div class="fab cp"><svg width="24" height="24" viewBox="0 0 24 24" style="display:block;"><path fill="#000" d="M16 1H4c-1.1 0-2 .9-2 2v14h2V3h12V1zm3 4H8c-1.1 0-2 .9-2 2v14c0 1.1.9 2 2 2h11c1.1 0 2-.9 2-2V7c0-1.1-.9-2-2-2zm0 16H8V7h11v14z"/></svg></div><div class="fab dl"><svg width="24" height="24" viewBox="0 0 24 24" style="display:block;"><path fill="#000" d="M6 19c0 1.1.9 2 2 2h8c1.1 0 2-.9 2-2V7H6v12zM19 4h-3.5l-1-1h-5l-1 1H5v2h14V4z"/></svg></div></div><div class="vd" style="left:522px;top:114px;height:193px"></div><div class="w" style="left:532px;top:113px;width:265px;height:194px"><div class="c"><span style="left:9px;top:10.2px;font-size:12.7px;line-height:15.2px;color:#7f7f7f;">Analog Set point</span><svg style="left:7px;top:75px" width="18" height="34" viewBox="0 0 18 34"><path d="M9 1.6a5.2 5.2 0 0 0-5.2 5.2v11.4a8 8 0 1 0 10.4 0V6.8A5.2 5.2 0 0 0 9 1.6z" fill="#8d8d8d"/><ellipse cx="9" cy="9.3" rx="2.3" ry="4" fill="#bdbdbd"/><path d="M9 16v8" stroke="#838383" stroke-width="6" stroke-linecap="round"/><circle cx="9" cy="25" r="5.4" fill="#7c7c7c"/></svg><span style="right:14px;top:84.2px;font-size:23px;line-height:27.6px;color:#838383;-webkit-text-stroke:1.1px #838383">80 &deg;C</span><span style="right:8px;top:167.8px;font-size:12.8px;line-height:15.4px;color:#7f7f7f;">03.08.2025&nbsp; 18:01:50</span></div><div class="num" style="right:23.5px;bottom:26.4px">2</div><div class="ed"><svg width="20.7" height="18" viewBox="0 0 24 24" preserveAspectRatio="none"><path fill="#fff" d="M19.14 12.94c.04-.3.06-.61.06-.94 0-.32-.02-.64-.07-.94l2.03-1.58c.18-.14.23-.41.12-.61l-1.92-3.32c-.12-.22-.37-.29-.59-.22l-2.39.96c-.5-.38-1.03-.7-1.62-.94l-.36-2.54c-.04-.24-.24-.41-.48-.41h-3.84c-.24 0-.43.17-.47.41l-.36 2.54c-.59.24-1.13.57-1.62.94l-2.39-.96c-.22-.08-.47 0-.59.22L2.74 8.87c-.12.21-.08.47.12.61l2.03 1.58c-.05.3-.09.63-.09.94s.02.64.07.94l-2.03 1.58c-.18.14-.23.41-.12.61l1.92 3.32c.12.22.37.29.59.22l2.39-.96c.5.38 1.03.7 1.62.94l.36 2.54c.05.24.24.41.48.41h3.84c.24 0 .44-.17.47-.41l.36-2.54c.59-.24 1.13-.56 1.62-.94l2.39.96c.22.08.47 0 .59-.22l1.92-3.32c.12-.22.07-.47-.12-.61l-2.01-1.58zM12 15.6c-1.98 0-3.6-1.62-3.6-3.6s1.62-3.6 3.6-3.6 3.6 1.62 3.6 3.6-1.62 3.6-3.6 3.6z"/></svg><b>Edit</b></div><div class="fab cp"><svg width="24" height="24" viewBox="0 0 24 24" style="display:block;"><path fill="#000" d="M16 1H4c-1.1 0-2 .9-2 2v14h2V3h12V1zm3 4H8c-1.1 0-2 .9-2 2v14c0 1.1.9 2 2 2h11c1.1 0 2-.9 2-2V7c0-1.1-.9-2-2-2zm0 16H8V7h11v14z"/></svg></div><div class="fab dl"><svg width="24" height="24" viewBox="0 0 24 24" style="display:block;"><path fill="#000" d="M6 19c0 1.1.9 2 2 2h8c1.1 0 2-.9 2-2V7H6v12zM19 4h-3.5l-1-1h-5l-1 1H5v2h14V4z"/></svg></div></div><div class="vd" style="left:797px;top:114px;height:193px"></div><div class="w" style="left:807px;top:113px;width:265px;height:194px"><div class="c"><span style="left:9px;top:10.2px;font-size:12.7px;line-height:15.2px;color:#7f7f7f;">Toggling lock signal</span><svg style="left:8.9px;top:77.1px" width="29" height="29" viewBox="0 0 24 24"><path fill="#868686" stroke="#868686" stroke-width=".6" d="M13 3h-2v10h2V3zm4.83 2.17l-1.42 1.42C17.99 7.86 19 9.81 19 12c0 3.87-3.13 7-7 7s-7-3.13-7-7c0-2.19 1.01-4.14 2.58-5.42L6.17 5.17C4.23 6.82 3 9.26 3 12c0 4.97 4.03 9 9 9s9-4.03 9-9c0-2.74-1.23-5.18-3.17-6.83z"/></svg><span style="left:16px;top:105.3px;width:16px;height:3px;background:#979797"></span><span style="left:188.5px;top:84.2px;font-size:18px;line-height:21.6px;color:#838383;font-weight:bold;-webkit-text-stroke:.5px #838383">Off</span><span style="left:222.5px;top:82.0px;width:25px;height:25px;border-radius:50%;background:radial-gradient(circle at 50% 50%,#aeb4b6 0 36%,#9b9da0 60%,#9d9fa1 100%)"></span><span style="right:8px;top:167.8px;font-size:12.8px;line-height:15.4px;color:#7f7f7f;">03.08.2025&nbsp; 18:01:50</span></div><div class="num" style="right:23.5px;bottom:26.4px">3</div><div class="ed"><svg width="20.7" height="18" viewBox="0 0 24 24" preserveAspectRatio="none"><path fill="#fff" d="M19.14 12.94c.04-.3.06-.61.06-.94 0-.32-.02-.64-.07-.94l2.03-1.58c.18-.14.23-.41.12-.61l-1.92-3.32c-.12-.22-.37-.29-.59-.22l-2.39.96c-.5-.38-1.03-.7-1.62-.94l-.36-2.54c-.04-.24-.24-.41-.48-.41h-3.84c-.24 0-.43.17-.47.41l-.36 2.54c-.59.24-1.13.57-1.62.94l-2.39-.96c-.22-.08-.47 0-.59.22L2.74 8.87c-.12.21-.08.47.12.61l2.03 1.58c-.05.3-.09.63-.09.94s.02.64.07.94l-2.03 1.58c-.18.14-.23.41-.12.61l1.92 3.32c.12.22.37.29.59.22l2.39-.96c.5.38 1.03.7 1.62.94l.36 2.54c.05.24.24.41.48.41h3.84c.24 0 .44-.17.47-.41l.36-2.54c.59-.24 1.13-.56 1.62-.94l2.39.96c.22.08.47 0 .59-.22l1.92-3.32c.12-.22.07-.47-.12-.61l-2.01-1.58zM12 15.6c-1.98 0-3.6-1.62-3.6-3.6s1.62-3.6 3.6-3.6 3.6 1.62 3.6 3.6-1.62 3.6-3.6 3.6z"/></svg><b>Edit</b></div><div class="fab cp"><svg width="24" height="24" viewBox="0 0 24 24" style="display:block;"><path fill="#000" d="M16 1H4c-1.1 0-2 .9-2 2v14h2V3h12V1zm3 4H8c-1.1 0-2 .9-2 2v14c0 1.1.9 2 2 2h11c1.1 0 2-.9 2-2V7c0-1.1-.9-2-2-2zm0 16H8V7h11v14z"/></svg></div><div class="fab dl"><svg width="24" height="24" viewBox="0 0 24 24" style="display:block;"><path fill="#000" d="M6 19c0 1.1.9 2 2 2h8c1.1 0 2-.9 2-2V7H6v12zM19 4h-3.5l-1-1h-5l-1 1H5v2h14V4z"/></svg></div></div><div class="vd" style="left:1072px;top:114px;height:193px"></div><div class="w" style="left:1082px;top:113px;width:265px;height:194px"><div class="c"><span style="left:9px;top:10.2px;font-size:12.7px;line-height:15.2px;color:#7f7f7f;">Digital set point</span><svg style="left:8.9px;top:77.1px" width="29" height="29" viewBox="0 0 24 24"><path fill="#868686" stroke="#868686" stroke-width=".6" d="M13 3h-2v10h2V3zm4.83 2.17l-1.42 1.42C17.99 7.86 19 9.81 19 12c0 3.87-3.13 7-7 7s-7-3.13-7-7c0-2.19 1.01-4.14 2.58-5.42L6.17 5.17C4.23 6.82 3 9.26 3 12c0 4.97 4.03 9 9 9s9-4.03 9-9c0-2.74-1.23-5.18-3.17-6.83z"/></svg><span style="left:16px;top:105.3px;width:16px;height:3px;background:#979797"></span><span style="left:188.5px;top:84.2px;font-size:18px;line-height:21.6px;color:#838383;font-weight:bold;-webkit-text-stroke:.5px #838383">Off</span><span style="left:222.5px;top:82.0px;width:25px;height:25px;border-radius:50%;background:radial-gradient(circle at 50% 50%,#aeb4b6 0 36%,#9b9da0 60%,#9d9fa1 100%)"></span><span style="right:8px;top:167.8px;font-size:12.8px;line-height:15.4px;color:#7f7f7f;">03.08.2025&nbsp; 18:01:50</span></div><div class="num" style="right:23.5px;bottom:26.4px">4</div><div class="ed"><svg width="20.7" height="18" viewBox="0 0 24 24" preserveAspectRatio="none"><path fill="#fff" d="M19.14 12.94c.04-.3.06-.61.06-.94 0-.32-.02-.64-.07-.94l2.03-1.58c.18-.14.23-.41.12-.61l-1.92-3.32c-.12-.22-.37-.29-.59-.22l-2.39.96c-.5-.38-1.03-.7-1.62-.94l-.36-2.54c-.04-.24-.24-.41-.48-.41h-3.84c-.24 0-.43.17-.47.41l-.36 2.54c-.59.24-1.13.57-1.62.94l-2.39-.96c-.22-.08-.47 0-.59.22L2.74 8.87c-.12.21-.08.47.12.61l2.03 1.58c-.05.3-.09.63-.09.94s.02.64.07.94l-2.03 1.58c-.18.14-.23.41-.12.61l1.92 3.32c.12.22.37.29.59.22l2.39-.96c.5.38 1.03.7 1.62.94l.36 2.54c.05.24.24.41.48.41h3.84c.24 0 .44-.17.47-.41l.36-2.54c.59-.24 1.13-.56 1.62-.94l2.39.96c.22.08.47 0 .59-.22l1.92-3.32c.12-.22.07-.47-.12-.61l-2.01-1.58zM12 15.6c-1.98 0-3.6-1.62-3.6-3.6s1.62-3.6 3.6-3.6 3.6 1.62 3.6 3.6-1.62 3.6-3.6 3.6z"/></svg><b>Edit</b></div><div class="fab cp"><svg width="24" height="24" viewBox="0 0 24 24" style="display:block;"><path fill="#000" d="M16 1H4c-1.1 0-2 .9-2 2v14h2V3h12V1zm3 4H8c-1.1 0-2 .9-2 2v14c0 1.1.9 2 2 2h11c1.1 0 2-.9 2-2V7c0-1.1-.9-2-2-2zm0 16H8V7h11v14z"/></svg></div><div class="fab dl"><svg width="24" height="24" viewBox="0 0 24 24" style="display:block;"><path fill="#000" d="M6 19c0 1.1.9 2 2 2h8c1.1 0 2-.9 2-2V7H6v12zM19 4h-3.5l-1-1h-5l-1 1H5v2h14V4z"/></svg></div></div><div class="vd" style="left:1347px;top:114px;height:193px"></div><div class="w" style="left:1357px;top:113px;width:265px;height:194px"><div class="c"><span style="left:-4px;top:-4px;right:-4px;height:29.5px;background:#858a9b"></span><span style="left:9px;top:3.25px;font-size:14.6px;line-height:17.5px;color:#b1b6c3;font-weight:bold;">True counter value</span><span style="left:231px;top:5px;width:14px;height:3px;background:#aeb2bf"></span><span style="left:236px;top:48px;width:5px;height:5px;background:#9a9a9a;border-radius:50%"></span><svg style="left:8px;top:79px" width="38" height="30" viewBox="0 0 50 40"><rect x="1.0" y="31" width="6.2" height="9" rx="1.5" fill="#8d8d8d"/><rect x="11.4" y="25" width="6.2" height="15" rx="1.5" fill="#8d8d8d"/><rect x="21.8" y="17" width="6.2" height="23" rx="1.5" fill="#8d8d8d"/><rect x="32.2" y="9" width="6.2" height="31" rx="1.5" fill="#8d8d8d"/><rect x="42.6" y="0" width="6.2" height="40" rx="1.5" fill="#8d8d8d"/></svg><span style="right:20px;top:85.6px;font-size:24px;line-height:28.8px;color:#838383;-webkit-text-stroke:.5px #838383">87.220</span><span style="right:8px;top:167.8px;font-size:12.8px;line-height:15.4px;color:#7f7f7f;">03.08.2025&nbsp; 18:01:34</span></div><div class="num" style="right:23.5px;bottom:26.4px">5</div><div class="ed"><svg width="20.7" height="18" viewBox="0 0 24 24" preserveAspectRatio="none"><path fill="#fff" d="M19.14 12.94c.04-.3.06-.61.06-.94 0-.32-.02-.64-.07-.94l2.03-1.58c.18-.14.23-.41.12-.61l-1.92-3.32c-.12-.22-.37-.29-.59-.22l-2.39.96c-.5-.38-1.03-.7-1.62-.94l-.36-2.54c-.04-.24-.24-.41-.48-.41h-3.84c-.24 0-.43.17-.47.41l-.36 2.54c-.59.24-1.13.57-1.62.94l-2.39-.96c-.22-.08-.47 0-.59.22L2.74 8.87c-.12.21-.08.47.12.61l2.03 1.58c-.05.3-.09.63-.09.94s.02.64.07.94l-2.03 1.58c-.18.14-.23.41-.12.61l1.92 3.32c.12.22.37.29.59.22l2.39-.96c.5.38 1.03.7 1.62.94l.36 2.54c.05.24.24.41.48.41h3.84c.24 0 .44-.17.47-.41l.36-2.54c.59-.24 1.13-.56 1.62-.94l2.39.96c.22.08.47 0 .59-.22l1.92-3.32c.12-.22.07-.47-.12-.61l-2.01-1.58zM12 15.6c-1.98 0-3.6-1.62-3.6-3.6s1.62-3.6 3.6-3.6 3.6 1.62 3.6 3.6-1.62 3.6-3.6 3.6z"/></svg><b>Edit</b></div><div class="fab cp"><svg width="24" height="24" viewBox="0 0 24 24" style="display:block;"><path fill="#000" d="M16 1H4c-1.1 0-2 .9-2 2v14h2V3h12V1zm3 4H8c-1.1 0-2 .9-2 2v14c0 1.1.9 2 2 2h11c1.1 0 2-.9 2-2V7c0-1.1-.9-2-2-2zm0 16H8V7h11v14z"/></svg></div><div class="fab dl"><svg width="24" height="24" viewBox="0 0 24 24" style="display:block;"><path fill="#000" d="M6 19c0 1.1.9 2 2 2h8c1.1 0 2-.9 2-2V7H6v12zM19 4h-3.5l-1-1h-5l-1 1H5v2h14V4z"/></svg></div></div><div class="vd" style="left:1622px;top:114px;height:193px"></div><div class="w" style="left:1632px;top:113px;width:265px;height:296px"><div class="c"><span style="left:-4px;top:-4px;right:-4px;height:29.5px;background:#858a9b"></span><span style="left:8px;top:3.25px;font-size:14.6px;line-height:17.5px;color:#b1b6c3;font-weight:bold;">Set counter value</span><span style="left:231px;top:5px;width:14px;height:3px;background:#aeb2bf"></span><svg style="left:46px;top:37px" width="50" height="41" viewBox="0 0 50 40"><rect x="1.0" y="31" width="6.2" height="9" rx="1.5" fill="#8b8b8b"/><rect x="11.4" y="25" width="6.2" height="15" rx="1.5" fill="#8b8b8b"/><rect x="21.8" y="17" width="6.2" height="23" rx="1.5" fill="#8b8b8b"/><rect x="32.2" y="9" width="6.2" height="31" rx="1.5" fill="#8b8b8b"/><rect x="42.6" y="0" width="6.2" height="40" rx="1.5" fill="#8b8b8b"/></svg><span style="right:18px;top:60.4px;font-size:38.5px;line-height:46.2px;color:#858585;-webkit-text-stroke:1.1px #858585">-6.418</span><span style="right:19px;top:136.5px;font-size:15.3px;line-height:18.4px;color:#8e8e8e;">03.08.25</span><span style="right:19px;top:160px;font-size:15.3px;line-height:18.4px;color:#8e8e8e;">18:01:34</span><span style="right:19px;top:194.25px;font-size:15.9px;line-height:19.1px;color:#7f7f7f;-webkit-text-stroke:.5px #7f7f7f">counter reading</span><span style="right:19px;top:217.65px;font-size:15.9px;line-height:19.1px;color:#7f7f7f;-webkit-text-stroke:.5px #7f7f7f">since:</span><span style="right:19px;top:241.8px;font-size:15.3px;line-height:18.4px;color:#8e8e8e;">13.08.25</span><span style="right:19px;top:265.6px;font-size:15.3px;line-height:18.4px;color:#8e8e8e;">12:04:48</span><svg style="left:59px;top:199px" width="24" height="24" viewBox="0 0 24 24"><path fill="#9ca2b9" d="M13 3c-4.97 0-9 4.03-9 9H1l3.89 3.89.07.14L9 12H6c0-3.87 3.13-7 7-7s7 3.13 7 7-3.13 7-7 7c-1.93 0-3.68-.79-4.94-2.06l-1.42 1.42C8.27 19.99 10.51 21 13 21c4.97 0 9-4.03 9-9s-4.03-9-9-9zm-1 5v5l4.28 2.54.72-1.21-3.5-2.08V8H12z"/></svg></div><div class="num" style="right:23.5px;bottom:27px">6</div><div class="ed"><svg width="20.7" height="18" viewBox="0 0 24 24" preserveAspectRatio="none"><path fill="#fff" d="M19.14 12.94c.04-.3.06-.61.06-.94 0-.32-.02-.64-.07-.94l2.03-1.58c.18-.14.23-.41.12-.61l-1.92-3.32c-.12-.22-.37-.29-.59-.22l-2.39.96c-.5-.38-1.03-.7-1.62-.94l-.36-2.54c-.04-.24-.24-.41-.48-.41h-3.84c-.24 0-.43.17-.47.41l-.36 2.54c-.59.24-1.13.57-1.62.94l-2.39-.96c-.22-.08-.47 0-.59.22L2.74 8.87c-.12.21-.08.47.12.61l2.03 1.58c-.05.3-.09.63-.09.94s.02.64.07.94l-2.03 1.58c-.18.14-.23.41-.12.61l1.92 3.32c.12.22.37.29.59.22l2.39-.96c.5.38 1.03.7 1.62.94l.36 2.54c.05.24.24.41.48.41h3.84c.24 0 .44-.17.47-.41l.36-2.54c.59-.24 1.13-.56 1.62-.94l2.39.96c.22.08.47 0 .59-.22l1.92-3.32c.12-.22.07-.47-.12-.61l-2.01-1.58zM12 15.6c-1.98 0-3.6-1.62-3.6-3.6s1.62-3.6 3.6-3.6 3.6 1.62 3.6 3.6-1.62 3.6-3.6 3.6z"/></svg><b>Edit</b></div><div class="fab cp"><svg width="24" height="24" viewBox="0 0 24 24" style="display:block;"><path fill="#000" d="M16 1H4c-1.1 0-2 .9-2 2v14h2V3h12V1zm3 4H8c-1.1 0-2 .9-2 2v14c0 1.1.9 2 2 2h11c1.1 0 2-.9 2-2V7c0-1.1-.9-2-2-2zm0 16H8V7h11v14z"/></svg></div><div class="fab dl"><svg width="24" height="24" viewBox="0 0 24 24" style="display:block;"><path fill="#000" d="M6 19c0 1.1.9 2 2 2h8c1.1 0 2-.9 2-2V7H6v12zM19 4h-3.5l-1-1h-5l-1 1H5v2h14V4z"/></svg></div></div><div class="vd" style="left:1897px;top:114px;height:295px"></div><div class="w" style="left:257px;top:316.7px;width:540px;height:398.1px"><div class="c"><svg style="left:0;top:0" width="540" height="398" viewBox="0 0 540 398"><path d="M101.5 320.3A179.3 179.3 0 0 1 145.4 130.0" fill="none" stroke="#b4b6b9" stroke-width="26"/><path d="M145.4 130.0A179.3 179.3 0 0 1 202.8 92.8" fill="none" stroke="#98c0b5" stroke-width="26"/><path d="M202.8 92.8A179.3 179.3 0 0 1 337.2 92.8" fill="none" stroke="#c5ab86" stroke-width="26"/><path d="M337.2 92.8A179.3 179.3 0 0 1 438.5 320.3" fill="none" stroke="#c49a9a" stroke-width="26"/><text x="73.6" y="330.5" font-size="15" fill="#878787" text-anchor="middle" dominant-baseline="central" font-family="Liberation Sans" transform="rotate(-110.0 73.6 330.5)">0</text><path d="M88.6 325.0L84.9 326.4" stroke="#b4b4b4" stroke-width="1.2"/><text x="63.6" y="291.7" font-size="15" fill="#878787" text-anchor="middle" dominant-baseline="central" font-family="Liberation Sans" transform="rotate(-99.0 63.6 291.7)">5</text><path d="M79.4 289.2L75.4 289.8" stroke="#b4b4b4" stroke-width="1.2"/><text x="61.1" y="251.7" font-size="15" fill="#878787" text-anchor="middle" dominant-baseline="central" font-family="Liberation Sans" transform="rotate(-88.0 61.1 251.7)">10</text><path d="M77.1 252.3L73.1 252.1" stroke="#b4b4b4" stroke-width="1.2"/><text x="66.4" y="212.0" font-size="15" fill="#878787" text-anchor="middle" dominant-baseline="central" font-family="Liberation Sans" transform="rotate(-77.0 66.4 212.0)">15</text><path d="M81.9 215.6L78.0 214.7" stroke="#b4b4b4" stroke-width="1.2"/><text x="79.1" y="174.0" font-size="15" fill="#878787" text-anchor="middle" dominant-baseline="central" font-family="Liberation Sans" transform="rotate(-66.0 79.1 174.0)">20</text><path d="M93.7 180.5L90.0 178.9" stroke="#b4b4b4" stroke-width="1.2"/><text x="98.8" y="139.1" font-size="15" fill="#878787" text-anchor="middle" dominant-baseline="central" font-family="Liberation Sans" transform="rotate(-55.0 98.8 139.1)">25</text><path d="M111.9 148.3L108.6 146.0" stroke="#b4b4b4" stroke-width="1.2"/><text x="124.8" y="108.7" font-size="15" fill="#878787" text-anchor="middle" dominant-baseline="central" font-family="Liberation Sans" transform="rotate(-44.0 124.8 108.7)">30</text><path d="M135.9 120.2L133.2 117.3" stroke="#b4b4b4" stroke-width="1.2"/><text x="156.2" y="83.7" font-size="15" fill="#878787" text-anchor="middle" dominant-baseline="central" font-family="Liberation Sans" transform="rotate(-33.0 156.2 83.7)">35</text><path d="M164.9 97.1L162.7 93.8" stroke="#b4b4b4" stroke-width="1.2"/><text x="191.7" y="65.2" font-size="15" fill="#878787" text-anchor="middle" dominant-baseline="central" font-family="Liberation Sans" transform="rotate(-22.0 191.7 65.2)">40</text><path d="M197.7 80.1L196.2 76.3" stroke="#b4b4b4" stroke-width="1.2"/><text x="230.1" y="53.8" font-size="15" fill="#878787" text-anchor="middle" dominant-baseline="central" font-family="Liberation Sans" transform="rotate(-11.0 230.1 53.8)">45</text><path d="M233.2 69.5L232.4 65.6" stroke="#b4b4b4" stroke-width="1.2"/><text x="270.0" y="50.0" font-size="15" fill="#878787" text-anchor="middle" dominant-baseline="central" font-family="Liberation Sans" transform="rotate(0.0 270.0 50.0)">50</text><path d="M270.0 66.0L270.0 62.0" stroke="#b4b4b4" stroke-width="1.2"/><text x="309.9" y="53.8" font-size="15" fill="#878787" text-anchor="middle" dominant-baseline="central" font-family="Liberation Sans" transform="rotate(11.0 309.9 53.8)">55</text><path d="M306.8 69.5L307.6 65.6" stroke="#b4b4b4" stroke-width="1.2"/><text x="348.3" y="65.2" font-size="15" fill="#878787" text-anchor="middle" dominant-baseline="central" font-family="Liberation Sans" transform="rotate(22.0 348.3 65.2)">60</text><path d="M342.3 80.1L343.8 76.3" stroke="#b4b4b4" stroke-width="1.2"/><text x="383.8" y="83.7" font-size="15" fill="#878787" text-anchor="middle" dominant-baseline="central" font-family="Liberation Sans" transform="rotate(33.0 383.8 83.7)">65</text><path d="M375.1 97.1L377.3 93.8" stroke="#b4b4b4" stroke-width="1.2"/><text x="415.2" y="108.7" font-size="15" fill="#878787" text-anchor="middle" dominant-baseline="central" font-family="Liberation Sans" transform="rotate(44.0 415.2 108.7)">70</text><path d="M404.1 120.2L406.8 117.3" stroke="#b4b4b4" stroke-width="1.2"/><text x="441.2" y="139.1" font-size="15" fill="#878787" text-anchor="middle" dominant-baseline="central" font-family="Liberation Sans" transform="rotate(55.0 441.2 139.1)">75</text><path d="M428.1 148.3L431.4 146.0" stroke="#b4b4b4" stroke-width="1.2"/><text x="460.9" y="174.0" font-size="15" fill="#878787" text-anchor="middle" dominant-baseline="central" font-family="Liberation Sans" transform="rotate(66.0 460.9 174.0)">80</text><path d="M446.3 180.5L450.0 178.9" stroke="#b4b4b4" stroke-width="1.2"/><text x="473.6" y="212.0" font-size="15" fill="#878787" text-anchor="middle" dominant-baseline="central" font-family="Liberation Sans" transform="rotate(77.0 473.6 212.0)">85</text><path d="M458.1 215.6L462.0 214.7" stroke="#b4b4b4" stroke-width="1.2"/><text x="478.9" y="251.7" font-size="15" fill="#878787" text-anchor="middle" dominant-baseline="central" font-family="Liberation Sans" transform="rotate(88.0 478.9 251.7)">90</text><path d="M462.9 252.3L466.9 252.1" stroke="#b4b4b4" stroke-width="1.2"/><text x="476.4" y="291.7" font-size="15" fill="#878787" text-anchor="middle" dominant-baseline="central" font-family="Liberation Sans" transform="rotate(99.0 476.4 291.7)">95</text><path d="M460.6 289.2L464.6 289.8" stroke="#b4b4b4" stroke-width="1.2"/><text x="466.4" y="330.5" font-size="15" fill="#878787" text-anchor="middle" dominant-baseline="central" font-family="Liberation Sans" transform="rotate(110.0 466.4 330.5)">100</text><path d="M451.4 325.0L455.1 326.4" stroke="#b4b4b4" stroke-width="1.2"/><path d="M265.9 249.9L447.2 180.1L274.1 268.1A10 10 0 0 1 265.9 249.9z" fill="#787e98"/><rect x="237" y="323" width="65.5" height="22.5" fill="none" stroke="#d2d2d2" stroke-width="1.3"/><text x="270" y="339.5" font-size="14.5" font-weight="bold" fill="#878787" text-anchor="middle" font-family="Liberation Sans">80 &#176;C</text></svg><span style="left:489px;top:30px;width:22px;height:22px;border-radius:50%;background:#5fb9a3;filter:blur(3px)"></span><span style="left:249.5px;top:-4px;width:41px;height:13.6px;background:#848a9b;border-radius:0 0 5px 5px"></span><span style="left:267px;top:.8px;width:6px;height:5.4px;background:#b9bbc2;border-radius:50%"></span></div><div class="num" style="right:23.5px;bottom:27.6px">7</div><div class="ed"><svg width="20.7" height="18" viewBox="0 0 24 24" preserveAspectRatio="none"><path fill="#fff" d="M19.14 12.94c.04-.3.06-.61.06-.94 0-.32-.02-.64-.07-.94l2.03-1.58c.18-.14.23-.41.12-.61l-1.92-3.32c-.12-.22-.37-.29-.59-.22l-2.39.96c-.5-.38-1.03-.7-1.62-.94l-.36-2.54c-.04-.24-.24-.41-.48-.41h-3.84c-.24 0-.43.17-.47.41l-.36 2.54c-.59.24-1.13.57-1.62.94l-2.39-.96c-.22-.08-.47 0-.59.22L2.74 8.87c-.12.21-.08.47.12.61l2.03 1.58c-.05.3-.09.63-.09.94s.02.64.07.94l-2.03 1.58c-.18.14-.23.41-.12.61l1.92 3.32c.12.22.37.29.59.22l2.39-.96c.5.38 1.03.7 1.62.94l.36 2.54c.05.24.24.41.48.41h3.84c.24 0 .44-.17.47-.41l.36-2.54c.59-.24 1.13-.56 1.62-.94l2.39.96c.22.08.47 0 .59-.22l1.92-3.32c.12-.22.07-.47-.12-.61l-2.01-1.58zM12 15.6c-1.98 0-3.6-1.62-3.6-3.6s1.62-3.6 3.6-3.6 3.6 1.62 3.6 3.6-1.62 3.6-3.6 3.6z"/></svg><b>Edit</b></div><div class="fab cp"><svg width="24" height="24" viewBox="0 0 24 24" style="display:block;"><path fill="#000" d="M16 1H4c-1.1 0-2 .9-2 2v14h2V3h12V1zm3 4H8c-1.1 0-2 .9-2 2v14c0 1.1.9 2 2 2h11c1.1 0 2-.9 2-2V7c0-1.1-.9-2-2-2zm0 16H8V7h11v14z"/></svg></div><div class="fab dl"><svg width="24" height="24" viewBox="0 0 24 24" style="display:block;"><path fill="#000" d="M6 19c0 1.1.9 2 2 2h8c1.1 0 2-.9 2-2V7H6v12zM19 4h-3.5l-1-1h-5l-1 1H5v2h14V4z"/></svg></div></div><div class="vd" style="left:797px;top:317.7px;height:397.1px"></div><div class="hd" style="left:257px;top:315.7px;width:540px"></div><div class="w" style="left:807px;top:316.7px;width:403px;height:398.1px"><div class="c"><svg style="left:0;top:0" width="403" height="398" viewBox="0 0 403 398"><defs><clipPath id="lq"><circle cx="201.3" cy="198" r="148"/></clipPath></defs><path clip-path="url(#lq)" fill="#b5bdc0" d="M40 100 C80 98 130 112 175 112 C215 112 235 101 270 101 C305 101 330 112 365 116 V360 H40z"/><circle cx="201.3" cy="198" r="150" fill="none" stroke="#8c91ab" stroke-width="4.2"/><text x="201.3" y="239" font-size="17.9" fill="#8b93a7" text-anchor="middle" font-family="Liberation Sans">DEMO - Analog</text><text x="201.3" y="261.5" font-size="17.9" fill="#8b93a7" text-anchor="middle" font-family="Liberation Sans">value</text><text x="201.3" y="215" font-size="48" fill="#8d93a8" text-anchor="middle" font-family="Liberation Sans">80</text></svg><span style="left:181px;top:-4px;width:41px;height:13.6px;background:#848a9b;border-radius:0 0 5px 5px"></span><span style="left:198.5px;top:.8px;width:6px;height:5.4px;background:#b9bbc2;border-radius:50%"></span></div><div class="num" style="right:23.5px;bottom:27.6px">8</div><div class="ed"><svg width="20.7" height="18" viewBox="0 0 24 24" preserveAspectRatio="none"><path fill="#fff" d="M19.14 12.94c.04-.3.06-.61.06-.94 0-.32-.02-.64-.07-.94l2.03-1.58c.18-.14.23-.41.12-.61l-1.92-3.32c-.12-.22-.37-.29-.59-.22l-2.39.96c-.5-.38-1.03-.7-1.62-.94l-.36-2.54c-.04-.24-.24-.41-.48-.41h-3.84c-.24 0-.43.17-.47.41l-.36 2.54c-.59.24-1.13.57-1.62.94l-2.39-.96c-.22-.08-.47 0-.59.22L2.74 8.87c-.12.21-.08.47.12.61l2.03 1.58c-.05.3-.09.63-.09.94s.02.64.07.94l-2.03 1.58c-.18.14-.23.41-.12.61l1.92 3.32c.12.22.37.29.59.22l2.39-.96c.5.38 1.03.7 1.62.94l.36 2.54c.05.24.24.41.48.41h3.84c.24 0 .44-.17.47-.41l.36-2.54c.59-.24 1.13-.56 1.62-.94l2.39.96c.22.08.47 0 .59-.22l1.92-3.32c.12-.22.07-.47-.12-.61l-2.01-1.58zM12 15.6c-1.98 0-3.6-1.62-3.6-3.6s1.62-3.6 3.6-3.6 3.6 1.62 3.6 3.6-1.62 3.6-3.6 3.6z"/></svg><b>Edit</b></div><div class="fab cp"><svg width="24" height="24" viewBox="0 0 24 24" style="display:block;"><path fill="#000" d="M16 1H4c-1.1 0-2 .9-2 2v14h2V3h12V1zm3 4H8c-1.1 0-2 .9-2 2v14c0 1.1.9 2 2 2h11c1.1 0 2-.9 2-2V7c0-1.1-.9-2-2-2zm0 16H8V7h11v14z"/></svg></div><div class="fab dl"><svg width="24" height="24" viewBox="0 0 24 24" style="display:block;"><path fill="#000" d="M6 19c0 1.1.9 2 2 2h8c1.1 0 2-.9 2-2V7H6v12zM19 4h-3.5l-1-1h-5l-1 1H5v2h14V4z"/></svg></div></div><div class="hd" style="left:807px;top:315.7px;width:403px"></div><div class="w" style="left:1220px;top:316.7px;width:403px;height:398.1px"><div class="c"><span style="left:32px;top:29px;font-size:14.5px;line-height:17.4px;color:#999999;-webkit-text-stroke:.3px #999999">Gruppe 1</span><span style="left:36px;top:80.7px;font-size:14.7px;line-height:17.6px;color:#8a8a8a;-webkit-text-stroke:.45px #8a8a8a">DEMO - Analog set point:</span><span style="left:36.5px;top:113px;width:1.5px;height:19px;background:#a8a8a8"></span><span style="left:41px;top:113.2px;font-size:13.8px;line-height:16.6px;color:#9f9f9f;">0,00</span><span style="left:274px;top:112px;width:45px;height:19px;background:#9bc6ba;border-radius:2px"></span><span style="left:279px;top:113.2px;font-size:13.8px;line-height:16.6px;color:#8fb3a9;">80,00</span><span style="right:37.5px;top:113.2px;font-size:13.8px;line-height:16.6px;color:#9f9f9f;">100,00</span><span style="right:34px;top:113px;width:1.5px;height:19px;background:#a8a8a8"></span><span style="left:36px;top:140px;width:331px;height:4px;background:#a2c6bb;border-radius:2px"></span><span style="left:284px;top:132px;width:20px;height:20px;border-radius:50%;background:#858aa0"></span><span style="left:36.5px;top:152px;width:1.5px;height:19px;background:#a8a8a8"></span><span style="left:41px;top:152.7px;font-size:13.8px;line-height:16.6px;color:#9f9f9f;">0,00</span><span style="right:37.5px;top:152.7px;font-size:13.8px;line-height:16.6px;color:#9f9f9f;">100,00</span><span style="right:34px;top:152px;width:1.5px;height:19px;background:#a8a8a8"></span><span style="left:36px;top:173px;font-size:14.2px;line-height:17.0px;color:#9f9f9f;">Niedrig</span><span style="right:35px;top:172.75px;font-size:14.6px;line-height:17.5px;color:#9f9f9f;">Hoch</span><span style="left:10px;top:212.5px;width:384px;height:1.6px;background:#b7b7b7"></span><span style="left:32px;top:241.3px;font-size:14.5px;line-height:17.4px;color:#999999;-webkit-text-stroke:.3px #999999">Gruppe 2</span><svg style="left:356px;top:241px" width="22" height="22" viewBox="0 0 24 24"><path fill="#adadad" d="M16.59 8.59L12 13.17 7.41 8.59 6 10l6 6 6-6z"/></svg><span style="left:10px;top:272.5px;width:384px;height:1.6px;background:#b7b7b7"></span><span style="left:181px;top:-4px;width:41px;height:13.6px;background:#848a9b;border-radius:0 0 5px 5px"></span><span style="left:198.5px;top:.8px;width:6px;height:5.4px;background:#b9bbc2;border-radius:50%"></span></div><div class="num" style="right:23.5px;bottom:27.6px">9</div><div class="ed"><svg width="20.7" height="18" viewBox="0 0 24 24" preserveAspectRatio="none"><path fill="#fff" d="M19.14 12.94c.04-.3.06-.61.06-.94 0-.32-.02-.64-.07-.94l2.03-1.58c.18-.14.23-.41.12-.61l-1.92-3.32c-.12-.22-.37-.29-.59-.22l-2.39.96c-.5-.38-1.03-.7-1.62-.94l-.36-2.54c-.04-.24-.24-.41-.48-.41h-3.84c-.24 0-.43.17-.47.41l-.36 2.54c-.59.24-1.13.57-1.62.94l-2.39-.96c-.22-.08-.47 0-.59.22L2.74 8.87c-.12.21-.08.47.12.61l2.03 1.58c-.05.3-.09.63-.09.94s.02.64.07.94l-2.03 1.58c-.18.14-.23.41-.12.61l1.92 3.32c.12.22.37.29.59.22l2.39-.96c.5.38 1.03.7 1.62.94l.36 2.54c.05.24.24.41.48.41h3.84c.24 0 .44-.17.47-.41l.36-2.54c.59-.24 1.13-.56 1.62-.94l2.39.96c.22.08.47 0 .59-.22l1.92-3.32c.12-.22.07-.47-.12-.61l-2.01-1.58zM12 15.6c-1.98 0-3.6-1.62-3.6-3.6s1.62-3.6 3.6-3.6 3.6 1.62 3.6 3.6-1.62 3.6-3.6 3.6z"/></svg><b>Edit</b></div><div class="fab cp"><svg width="24" height="24" viewBox="0 0 24 24" style="display:block;"><path fill="#000" d="M16 1H4c-1.1 0-2 .9-2 2v14h2V3h12V1zm3 4H8c-1.1 0-2 .9-2 2v14c0 1.1.9 2 2 2h11c1.1 0 2-.9 2-2V7c0-1.1-.9-2-2-2zm0 16H8V7h11v14z"/></svg></div><div class="fab dl"><svg width="24" height="24" viewBox="0 0 24 24" style="display:block;"><path fill="#000" d="M6 19c0 1.1.9 2 2 2h8c1.1 0 2-.9 2-2V7H6v12zM19 4h-3.5l-1-1h-5l-1 1H5v2h14V4z"/></svg></div></div><div class="vd" style="left:1219px;top:317.7px;height:397.1px"></div><div class="hd" style="left:1220px;top:315.7px;width:403px"></div><div class="w" style="left:1632px;top:418.5px;width:265px;height:296.3px"><div class="c"><span style="left:23px;top:19px;font-size:33.4px;line-height:38px;color:#8e8e8e;text-decoration:underline;text-decoration-thickness:2px;text-underline-offset:3px">Information</span><span style="left:23.5px;top:82.7px;font-size:22.6px;line-height:27px;letter-spacing:.62px;color:#8b8b8b;-webkit-text-stroke:.4px #8b8b8b;">All widgets you can</span><span style="left:23.5px;top:108.9px;font-size:22.6px;line-height:27px;letter-spacing:.62px;color:#8b8b8b;-webkit-text-stroke:.4px #8b8b8b;">find in this</span><span style="left:23.5px;top:135.1px;font-size:22.6px;line-height:27px;letter-spacing:.62px;color:#8b8b8b;-webkit-text-stroke:.4px #8b8b8b;">Dashboard tab</span><span style="left:23.5px;top:161.3px;font-size:22.6px;line-height:27px;letter-spacing:.62px;color:#8b8b8b;-webkit-text-stroke:.4px #8b8b8b;">"Signals" are</span><span style="left:23.5px;top:187.5px;font-size:22.6px;line-height:27px;letter-spacing:.62px;color:#8b8b8b;-webkit-text-stroke:.4px #8b8b8b;">explained in the</span><span style="left:23.5px;top:213.7px;font-size:22.6px;line-height:27px;letter-spacing:.62px;color:#8b8b8b;-webkit-text-stroke:.4px #8b8b8b;color:#8cabcd;-webkit-text-stroke:.35px #8cabcd;text-decoration:underline">Help Center -&gt;&nbsp;</span><span style="left:23.5px;top:239.9px;font-size:22.6px;line-height:27px;letter-spacing:.62px;color:#8b8b8b;-webkit-text-stroke:.4px #8b8b8b;"><span style="position:static;color:#8cabcd;-webkit-text-stroke:.35px #8cabcd;text-decoration:underline">Signals</span> in detail.</span><span style="left:23.5px;top:266.1px;font-size:22.6px;line-height:27px;letter-spacing:.62px;color:#8b8b8b;-webkit-text-stroke:.4px #8b8b8b;">The other tabs can</span><span style="left:249px;top:50px;width:6px;height:180px;background:#b1b1b1;border-radius:3px"></span><span style="left:112px;top:-4px;width:41px;height:13.6px;background:#848a9b;border-radius:0 0 5px 5px"></span><span style="left:129.5px;top:.8px;width:6px;height:5.4px;background:#b9bbc2;border-radius:50%"></span></div><div class="num" style="right:24.7px;bottom:27.7px"><svg width="27" height="48" viewBox="0 0 27 48" style="display:inline-block;vertical-align:top"><path fill="#fff" d="M20 5.9V40.35H14.4V11.7L5.3 15.3V10.7L17.3 5.9z"/></svg>0</div><div class="ed"><svg width="20.7" height="18" viewBox="0 0 24 24" preserveAspectRatio="none"><path fill="#fff" d="M19.14 12.94c.04-.3.06-.61.06-.94 0-.32-.02-.64-.07-.94l2.03-1.58c.18-.14.23-.41.12-.61l-1.92-3.32c-.12-.22-.37-.29-.59-.22l-2.39.96c-.5-.38-1.03-.7-1.62-.94l-.36-2.54c-.04-.24-.24-.41-.48-.41h-3.84c-.24 0-.43.17-.47.41l-.36 2.54c-.59.24-1.13.57-1.62.94l-2.39-.96c-.22-.08-.47 0-.59.22L2.74 8.87c-.12.21-.08.47.12.61l2.03 1.58c-.05.3-.09.63-.09.94s.02.64.07.94l-2.03 1.58c-.18.14-.23.41-.12.61l1.92 3.32c.12.22.37.29.59.22l2.39-.96c.5.38 1.03.7 1.62.94l.36 2.54c.05.24.24.41.48.41h3.84c.24 0 .44-.17.47-.41l.36-2.54c.59-.24 1.13-.56 1.62-.94l2.39.96c.22.08.47 0 .59-.22l1.92-3.32c.12-.22.07-.47-.12-.61l-2.01-1.58zM12 15.6c-1.98 0-3.6-1.62-3.6-3.6s1.62-3.6 3.6-3.6 3.6 1.62 3.6 3.6-1.62 3.6-3.6 3.6z"/></svg><b>Edit</b></div><div class="fab cp"><svg width="24" height="24" viewBox="0 0 24 24" style="display:block;"><path fill="#000" d="M16 1H4c-1.1 0-2 .9-2 2v14h2V3h12V1zm3 4H8c-1.1 0-2 .9-2 2v14c0 1.1.9 2 2 2h11c1.1 0 2-.9 2-2V7c0-1.1-.9-2-2-2zm0 16H8V7h11v14z"/></svg></div><div class="fab dl"><svg width="24" height="24" viewBox="0 0 24 24" style="display:block;"><path fill="#000" d="M6 19c0 1.1.9 2 2 2h8c1.1 0 2-.9 2-2V7H6v12zM19 4h-3.5l-1-1h-5l-1 1H5v2h14V4z"/></svg></div></div><div class="vd" style="left:1897px;top:419.5px;height:295.3px"></div><div class="hd" style="left:1632px;top:417.5px;width:265px"></div><div class="w" style="left:257px;top:724.1px;width:540px;height:193.9px"><div class="c"><span style="left:0;top:1.2px;width:100%;height:100%"><span style="left:9px;top:8px;width:523px;height:173px;background:#c1c1c1"></span><span style="left:9px;top:8px;width:523px;height:1.8px;background:#cacaca"></span><span style="left:9px;top:50px;width:523px;height:1.8px;background:#cacaca"></span><span style="left:9px;top:117px;width:523px;height:1.8px;background:#cacaca"></span><span style="left:9px;top:180px;width:523px;height:1.8px;background:#cacaca"></span><span style="left:9px;top:8px;width:1.8px;height:173px;background:#cacaca"></span><span style="left:182.5px;top:8px;width:1.8px;height:173px;background:#cacaca"></span><span style="left:357px;top:8px;width:1.8px;height:173px;background:#cacaca"></span><span style="left:531px;top:8px;width:1.8px;height:173px;background:#cacaca"></span><span style="left:-54px;width:300px;text-align:center;top:19px;font-size:15px;line-height:18.0px;color:#888888;font-weight:bold;">Name</span><span style="left:120px;width:300px;text-align:center;top:19px;font-size:15px;line-height:18.0px;color:#888888;font-weight:bold;">Value</span><span style="left:294px;width:300px;text-align:center;top:19px;font-size:15px;line-height:18.0px;color:#888888;font-weight:bold;">Setpoint</span><span style="left:-54px;width:300px;text-align:center;top:62.8px;font-size:15.3px;line-height:18.4px;color:#979797;">DEMO - Analog</span><span style="left:-54px;width:300px;text-align:center;top:86.3px;font-size:15.3px;line-height:18.4px;color:#979797;">value</span><span style="left:197px;top:75.9px;font-size:13.5px;line-height:16.2px;color:#858585;font-weight:bold;">80 &deg;C</span><span style="left:371px;top:75.9px;font-size:13.5px;line-height:16.2px;color:#858585;font-weight:bold;">80 &deg;C</span><span style="left:-54px;width:300px;text-align:center;top:140.8px;font-size:15.3px;line-height:18.4px;color:#979797;">DEMO - Digital value</span><span style="left:200.3px;top:137.5px;width:25px;height:25px;border-radius:50%;background:radial-gradient(circle at 50% 50%,#aeb4b6 0 36%,#9b9da0 60%,#9d9fa1 100%)"></span><span style="left:374.3px;top:137.5px;width:25px;height:25px;border-radius:50%;background:radial-gradient(circle at 50% 50%,#aeb4b6 0 36%,#9b9da0 60%,#9d9fa1 100%)"></span><svg style="left:484px;top:142px" width="22" height="22" viewBox="0 0 24 24"><path fill="#8d8d8d" d="M18 8h-1V6c0-2.76-2.24-5-5-5S7 3.24 7 6v2H6c-1.1 0-2 .9-2 2v10c0 1.1.9 2 2 2h12c1.1 0 2-.9 2-2V10c0-1.1-.9-2-2-2zm-6 9c-1.1 0-2-.9-2-2s.9-2 2-2 2 .9 2 2-.9 2-2 2zm3.1-9H8.9V6c0-1.71 1.39-3.1 3.1-3.1 1.71 0 3.1 1.39 3.1 3.1v2z"/></svg></span><span style="left:249.5px;top:-4px;width:41px;height:13.6px;background:#848a9b;border-radius:0 0 5px 5px"></span><span style="left:267px;top:.8px;width:6px;height:5.4px;background:#b9bbc2;border-radius:50%"></span></div><div class="num" style="right:24.9px;bottom:27.4px"><svg width="27" height="48" viewBox="0 0 27 48" style="display:inline-block;vertical-align:top"><path fill="#fff" d="M20 5.9V40.35H14.4V11.7L5.3 15.3V10.7L17.3 5.9z"/></svg><svg width="27" height="48" viewBox="0 0 27 48" style="display:inline-block;vertical-align:top"><path fill="#fff" d="M20 5.9V40.35H14.4V11.7L5.3 15.3V10.7L17.3 5.9z"/></svg></div><div class="ed"><svg width="20.7" height="18" viewBox="0 0 24 24" preserveAspectRatio="none"><path fill="#fff" d="M19.14 12.94c.04-.3.06-.61.06-.94 0-.32-.02-.64-.07-.94l2.03-1.58c.18-.14.23-.41.12-.61l-1.92-3.32c-.12-.22-.37-.29-.59-.22l-2.39.96c-.5-.38-1.03-.7-1.62-.94l-.36-2.54c-.04-.24-.24-.41-.48-.41h-3.84c-.24 0-.43.17-.47.41l-.36 2.54c-.59.24-1.13.57-1.62.94l-2.39-.96c-.22-.08-.47 0-.59.22L2.74 8.87c-.12.21-.08.47.12.61l2.03 1.58c-.05.3-.09.63-.09.94s.02.64.07.94l-2.03 1.58c-.18.14-.23.41-.12.61l1.92 3.32c.12.22.37.29.59.22l2.39-.96c.5.38 1.03.7 1.62.94l.36 2.54c.05.24.24.41.48.41h3.84c.24 0 .44-.17.47-.41l.36-2.54c.59-.24 1.13-.56 1.62-.94l2.39.96c.22.08.47 0 .59-.22l1.92-3.32c.12-.22.07-.47-.12-.61l-2.01-1.58zM12 15.6c-1.98 0-3.6-1.62-3.6-3.6s1.62-3.6 3.6-3.6 3.6 1.62 3.6 3.6-1.62 3.6-3.6 3.6z"/></svg><b>Edit</b></div><div class="fab cp"><svg width="24" height="24" viewBox="0 0 24 24" style="display:block;"><path fill="#000" d="M16 1H4c-1.1 0-2 .9-2 2v14h2V3h12V1zm3 4H8c-1.1 0-2 .9-2 2v14c0 1.1.9 2 2 2h11c1.1 0 2-.9 2-2V7c0-1.1-.9-2-2-2zm0 16H8V7h11v14z"/></svg></div><div class="fab dl"><svg width="24" height="24" viewBox="0 0 24 24" style="display:block;"><path fill="#000" d="M6 19c0 1.1.9 2 2 2h8c1.1 0 2-.9 2-2V7H6v12zM19 4h-3.5l-1-1h-5l-1 1H5v2h14V4z"/></svg></div></div><div class="vd" style="left:797px;top:725.1px;height:192.9px"></div><div class="w" style="left:257px;top:927.6px;width:540px;height:296px;background:#bababa"><div class="c"><span style="left:0;top:2.4px;width:100%;height:100%"><span style="left:120px;width:300px;text-align:center;top:46.55px;font-size:16.6px;line-height:19.9px;color:#a3a3a3;">OFF</span><span style="left:191.5px;width:300px;text-align:center;top:66.2px;font-size:18px;line-height:21.6px;color:#a3a3a3;">ON</span><span style="left:252px;top:73.3px;width:36px;height:1.2px;background:#b3b3b3"></span><span style="left:224px;top:82px;width:92px;height:92px;border-radius:50%;background:#a8a8a8"></span><span style="left:264px;top:94px;width:12px;height:10px;border-radius:50%;background:#bdbdbd"></span></span><span style="left:249.5px;top:-4px;width:41px;height:13.6px;background:#848a9b;border-radius:0 0 5px 5px"></span><span style="left:267px;top:.8px;width:6px;height:5.4px;background:#b9bbc2;border-radius:50%"></span></div><div class="ed"><svg width="20.7" height="18" viewBox="0 0 24 24" preserveAspectRatio="none"><path fill="#fff" d="M19.14 12.94c.04-.3.06-.61.06-.94 0-.32-.02-.64-.07-.94l2.03-1.58c.18-.14.23-.41.12-.61l-1.92-3.32c-.12-.22-.37-.29-.59-.22l-2.39.96c-.5-.38-1.03-.7-1.62-.94l-.36-2.54c-.04-.24-.24-.41-.48-.41h-3.84c-.24 0-.43.17-.47.41l-.36 2.54c-.59.24-1.13.57-1.62.94l-2.39-.96c-.22-.08-.47 0-.59.22L2.74 8.87c-.12.21-.08.47.12.61l2.03 1.58c-.05.3-.09.63-.09.94s.02.64.07.94l-2.03 1.58c-.18.14-.23.41-.12.61l1.92 3.32c.12.22.37.29.59.22l2.39-.96c.5.38 1.03.7 1.62.94l.36 2.54c.05.24.24.41.48.41h3.84c.24 0 .44-.17.47-.41l.36-2.54c.59-.24 1.13-.56 1.62-.94l2.39.96c.22.08.47 0 .59-.22l1.92-3.32c.12-.22.07-.47-.12-.61l-2.01-1.58zM12 15.6c-1.98 0-3.6-1.62-3.6-3.6s1.62-3.6 3.6-3.6 3.6 1.62 3.6 3.6-1.62 3.6-3.6 3.6z"/></svg><b>Edit</b></div><div class="fab cp"><svg width="24" height="24" viewBox="0 0 24 24" style="display:block;"><path fill="#000" d="M16 1H4c-1.1 0-2 .9-2 2v14h2V3h12V1zm3 4H8c-1.1 0-2 .9-2 2v14c0 1.1.9 2 2 2h11c1.1 0 2-.9 2-2V7c0-1.1-.9-2-2-2zm0 16H8V7h11v14z"/></svg></div><div class="fab dl"><svg width="24" height="24" viewBox="0 0 24 24" style="display:block;"><path fill="#000" d="M6 19c0 1.1.9 2 2 2h8c1.1 0 2-.9 2-2V7H6v12zM19 4h-3.5l-1-1h-5l-1 1H5v2h14V4z"/></svg></div></div><div class="vd" style="left:797px;top:928.6px;height:295px"></div><div class="w" style="left:807px;top:724.1px;width:1090px;height:500px"><div class="c"><span style="left:0;top:1.1px;width:100%;height:100%"><span style="left:8.6px;top:7.4px;width:1072.6px;height:50.5px;background:#c1c1c1"></span><span style="left:8.6px;top:66.2px;width:1072.6px;height:49.5px;background:#c1c1c1"></span><span style="left:23px;top:13.4px;font-size:11px;line-height:13.2px;color:#a8a8a8;">Filter by</span><span style="left:23px;top:31.8px;font-size:14.5px;line-height:17.4px;color:#9b9b9b;">All</span><span style="left:9px;top:57.5px;width:1072px;height:1.6px;background:#b6b6b6"></span><span style="left:23px;top:81.3px;font-size:14.5px;line-height:17.4px;color:#a8a8a8;">Filter</span><span style="left:9px;top:115.5px;width:1072px;height:1.6px;background:#b6b6b6"></span><span style="left:12.5px;top:156.65px;font-size:13.9px;line-height:16.7px;color:#a3a3a3;">Name</span><span style="left:191px;top:156.65px;font-size:13.9px;line-height:16.7px;color:#a3a3a3;">Description</span><span style="left:370px;top:156.65px;font-size:13.9px;line-height:16.7px;color:#a3a3a3;">Signal type</span><span style="left:549px;top:156.65px;font-size:13.9px;line-height:16.7px;color:#a3a3a3;">Data connection</span><span style="left:728.5px;top:156.65px;font-size:13.9px;line-height:16.7px;color:#a3a3a3;">Value</span><span style="left:907px;top:156.65px;font-size:13.9px;line-height:16.7px;color:#a3a3a3;">Timestamp</span><span style="left:9px;top:193px;width:1072px;height:320px;background:#c4abab"></span><span style="left:9px;top:241.0px;width:1072px;height:1.5px;background:#bfa4a4"></span><span style="left:9px;top:289.3px;width:1072px;height:1.5px;background:#bfa4a4"></span><span style="left:9px;top:337.6px;width:1072px;height:1.5px;background:#bfa4a4"></span><span style="left:9px;top:385.9px;width:1072px;height:1.5px;background:#bfa4a4"></span><span style="left:9px;top:434.2px;width:1072px;height:1.5px;background:#bfa4a4"></span><span style="left:9px;top:482.5px;width:1072px;height:1.5px;background:#bfa4a4"></span><span style="left:12.5px;top:208.65px;font-size:13.9px;line-height:16.7px;color:#9d8d8d;">Counter</span><span style="left:370px;top:208.65px;font-size:13.9px;line-height:16.7px;color:#9d8d8d;">Counter</span><span style="left:549px;top:208.65px;font-size:13.9px;line-height:16.7px;color:#9d8d8d;">OPC UA</span><span style="left:728.5px;top:208.95px;font-size:13.4px;line-height:16.1px;color:#8f8080;font-weight:bold;">87.220</span><span style="left:907px;top:208.65px;font-size:13.9px;line-height:16.7px;color:#9d8d8d;">03.08.2025 18:01:34</span><span style="left:12.5px;top:256.95px;font-size:13.9px;line-height:16.7px;color:#9d8d8d;">DEMO - Analog value</span><span style="left:191px;top:256.95px;font-size:13.9px;line-height:16.7px;color:#9d8d8d;">follows "Analog set point"</span><span style="left:370px;top:256.95px;font-size:13.9px;line-height:16.7px;color:#9d8d8d;">Analog input</span><span style="left:549px;top:256.95px;font-size:13.9px;line-height:16.7px;color:#9d8d8d;">OPC UA</span><span style="left:728.5px;top:257.25px;font-size:13.4px;line-height:16.1px;color:#8f8080;font-weight:bold;">80 &deg;C</span><span style="left:907px;top:256.95px;font-size:13.9px;line-height:16.7px;color:#9d8d8d;">03.08.2025 18:01:50</span></span><span style="left:524.5px;top:-4px;width:41px;height:13.6px;background:#848a9b;border-radius:0 0 5px 5px"></span><span style="left:542px;top:.8px;width:6px;height:5.4px;background:#b9bbc2;border-radius:50%"></span></div><div class="ed"><svg width="20.7" height="18" viewBox="0 0 24 24" preserveAspectRatio="none"><path fill="#fff" d="M19.14 12.94c.04-.3.06-.61.06-.94 0-.32-.02-.64-.07-.94l2.03-1.58c.18-.14.23-.41.12-.61l-1.92-3.32c-.12-.22-.37-.29-.59-.22l-2.39.96c-.5-.38-1.03-.7-1.62-.94l-.36-2.54c-.04-.24-.24-.41-.48-.41h-3.84c-.24 0-.43.17-.47.41l-.36 2.54c-.59.24-1.13.57-1.62.94l-2.39-.96c-.22-.08-.47 0-.59.22L2.74 8.87c-.12.21-.08.47.12.61l2.03 1.58c-.05.3-.09.63-.09.94s.02.64.07.94l-2.03 1.58c-.18.14-.23.41-.12.61l1.92 3.32c.12.22.37.29.59.22l2.39-.96c.5.38 1.03.7 1.62.94l.36 2.54c.05.24.24.41.48.41h3.84c.24 0 .44-.17.47-.41l.36-2.54c.59-.24 1.13-.56 1.62-.94l2.39.96c.22.08.47 0 .59-.22l1.92-3.32c.12-.22.07-.47-.12-.61l-2.01-1.58zM12 15.6c-1.98 0-3.6-1.62-3.6-3.6s1.62-3.6 3.6-3.6 3.6 1.62 3.6 3.6-1.62 3.6-3.6 3.6z"/></svg><b>Edit</b></div><div class="fab cp"><svg width="24" height="24" viewBox="0 0 24 24" style="display:block;"><path fill="#000" d="M16 1H4c-1.1 0-2 .9-2 2v14h2V3h12V1zm3 4H8c-1.1 0-2 .9-2 2v14c0 1.1.9 2 2 2h11c1.1 0 2-.9 2-2V7c0-1.1-.9-2-2-2zm0 16H8V7h11v14z"/></svg></div><div class="fab dl"><svg width="24" height="24" viewBox="0 0 24 24" style="display:block;"><path fill="#000" d="M6 19c0 1.1.9 2 2 2h8c1.1 0 2-.9 2-2V7H6v12zM19 4h-3.5l-1-1h-5l-1 1H5v2h14V4z"/></svg></div></div><div class="vd" style="left:1897px;top:725.1px;height:499px"></div></div></div><div id="sb"><i></i></div>
</body></html>
